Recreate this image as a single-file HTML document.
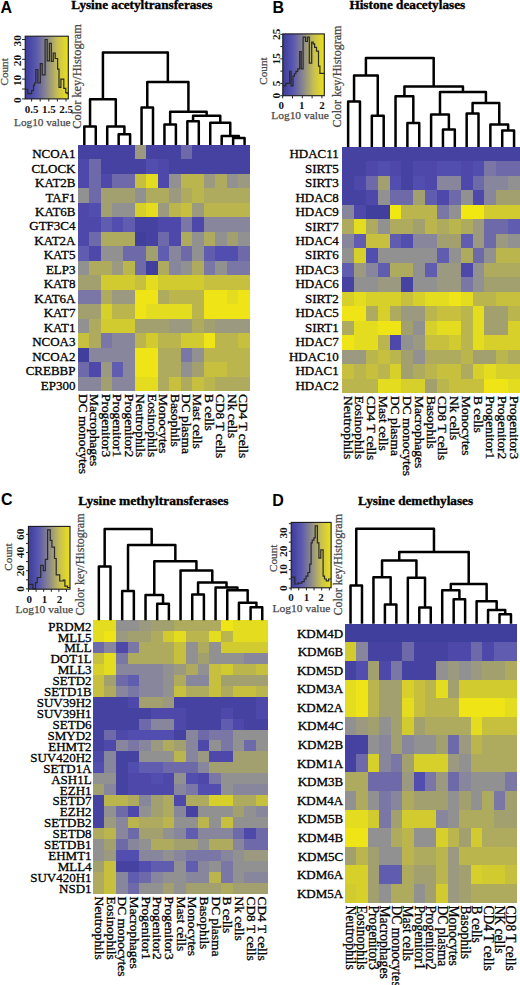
<!DOCTYPE html><html><head><meta charset="utf-8"><style>html,body{margin:0;padding:0;background:#fff;}svg{display:block;}text{font-family:"Liberation Serif",serif;}</style></head><body><svg width="520" height="985" viewBox="0 0 520 985"><rect width="520" height="985" fill="#fff"/><defs><linearGradient id="ck" x1="0" x2="1" y1="0" y2="0"><stop offset="0" stop-color="#3c3c9c"/><stop offset="0.25" stop-color="#5a58b0"/><stop offset="0.5" stop-color="#8c8a8a"/><stop offset="0.75" stop-color="#c8c050"/><stop offset="1" stop-color="#ece218"/></linearGradient></defs><g shape-rendering="crispEdges"><rect x="77.70" y="145.00" width="11.75" height="14.77" fill="#4642a2"/><rect x="89.15" y="145.00" width="11.75" height="14.77" fill="#4642a2"/><rect x="100.59" y="145.00" width="11.75" height="14.77" fill="#4642a2"/><rect x="112.04" y="145.00" width="11.75" height="14.77" fill="#4642a2"/><rect x="123.49" y="145.00" width="11.75" height="14.77" fill="#4642a2"/><rect x="134.93" y="145.00" width="11.75" height="14.77" fill="#9b9980"/><rect x="146.38" y="145.00" width="11.75" height="14.77" fill="#4642a2"/><rect x="157.83" y="145.00" width="11.75" height="14.77" fill="#4642a2"/><rect x="169.27" y="145.00" width="11.75" height="14.77" fill="#4642a2"/><rect x="180.72" y="145.00" width="11.75" height="14.77" fill="#6e6aaa"/><rect x="192.17" y="145.00" width="11.75" height="14.77" fill="#4642a2"/><rect x="203.61" y="145.00" width="11.75" height="14.77" fill="#4642a2"/><rect x="215.06" y="145.00" width="11.75" height="14.77" fill="#4642a2"/><rect x="226.51" y="145.00" width="11.75" height="14.77" fill="#4642a2"/><rect x="237.95" y="145.00" width="11.75" height="14.77" fill="#4642a2"/><rect x="77.70" y="159.47" width="11.75" height="14.77" fill="#4e48aa"/><rect x="89.15" y="159.47" width="11.75" height="14.77" fill="#6e6aaa"/><rect x="100.59" y="159.47" width="11.75" height="14.77" fill="#4642a2"/><rect x="112.04" y="159.47" width="11.75" height="14.77" fill="#4642a2"/><rect x="123.49" y="159.47" width="11.75" height="14.77" fill="#4642a2"/><rect x="134.93" y="159.47" width="11.75" height="14.77" fill="#4642a2"/><rect x="146.38" y="159.47" width="11.75" height="14.77" fill="#524eb0"/><rect x="157.83" y="159.47" width="11.75" height="14.77" fill="#4e48aa"/><rect x="169.27" y="159.47" width="11.75" height="14.77" fill="#4642a2"/><rect x="180.72" y="159.47" width="11.75" height="14.77" fill="#4642a2"/><rect x="192.17" y="159.47" width="11.75" height="14.77" fill="#4642a2"/><rect x="203.61" y="159.47" width="11.75" height="14.77" fill="#4642a2"/><rect x="215.06" y="159.47" width="11.75" height="14.77" fill="#4642a2"/><rect x="226.51" y="159.47" width="11.75" height="14.77" fill="#4642a2"/><rect x="237.95" y="159.47" width="11.75" height="14.77" fill="#4642a2"/><rect x="77.70" y="173.94" width="11.75" height="14.77" fill="#4e48aa"/><rect x="89.15" y="173.94" width="11.75" height="14.77" fill="#6e6aaa"/><rect x="100.59" y="173.94" width="11.75" height="14.77" fill="#4e48aa"/><rect x="112.04" y="173.94" width="11.75" height="14.77" fill="#6e6aaa"/><rect x="123.49" y="173.94" width="11.75" height="14.77" fill="#6e6aaa"/><rect x="134.93" y="173.94" width="11.75" height="14.77" fill="#c6c03e"/><rect x="146.38" y="173.94" width="11.75" height="14.77" fill="#e4dc1e"/><rect x="157.83" y="173.94" width="11.75" height="14.77" fill="#4e48aa"/><rect x="169.27" y="173.94" width="11.75" height="14.77" fill="#929192"/><rect x="180.72" y="173.94" width="11.75" height="14.77" fill="#bab54c"/><rect x="192.17" y="173.94" width="11.75" height="14.77" fill="#bab54c"/><rect x="203.61" y="173.94" width="11.75" height="14.77" fill="#9b9980"/><rect x="215.06" y="173.94" width="11.75" height="14.77" fill="#aeaa5e"/><rect x="226.51" y="173.94" width="11.75" height="14.77" fill="#929192"/><rect x="237.95" y="173.94" width="11.75" height="14.77" fill="#9b9980"/><rect x="77.70" y="188.41" width="11.75" height="14.77" fill="#929192"/><rect x="89.15" y="188.41" width="11.75" height="14.77" fill="#6e6aaa"/><rect x="100.59" y="188.41" width="11.75" height="14.77" fill="#a3a070"/><rect x="112.04" y="188.41" width="11.75" height="14.77" fill="#a3a070"/><rect x="123.49" y="188.41" width="11.75" height="14.77" fill="#a3a070"/><rect x="134.93" y="188.41" width="11.75" height="14.77" fill="#929192"/><rect x="146.38" y="188.41" width="11.75" height="14.77" fill="#aeaa5e"/><rect x="157.83" y="188.41" width="11.75" height="14.77" fill="#aeaa5e"/><rect x="169.27" y="188.41" width="11.75" height="14.77" fill="#9b9980"/><rect x="180.72" y="188.41" width="11.75" height="14.77" fill="#aeaa5e"/><rect x="192.17" y="188.41" width="11.75" height="14.77" fill="#bab54c"/><rect x="203.61" y="188.41" width="11.75" height="14.77" fill="#aeaa5e"/><rect x="215.06" y="188.41" width="11.75" height="14.77" fill="#aeaa5e"/><rect x="226.51" y="188.41" width="11.75" height="14.77" fill="#aeaa5e"/><rect x="237.95" y="188.41" width="11.75" height="14.77" fill="#aeaa5e"/><rect x="77.70" y="202.88" width="11.75" height="14.77" fill="#4e48aa"/><rect x="89.15" y="202.88" width="11.75" height="14.77" fill="#524eb0"/><rect x="100.59" y="202.88" width="11.75" height="14.77" fill="#a3a070"/><rect x="112.04" y="202.88" width="11.75" height="14.77" fill="#929192"/><rect x="123.49" y="202.88" width="11.75" height="14.77" fill="#929192"/><rect x="134.93" y="202.88" width="11.75" height="14.77" fill="#d8d02a"/><rect x="146.38" y="202.88" width="11.75" height="14.77" fill="#e4dc1e"/><rect x="157.83" y="202.88" width="11.75" height="14.77" fill="#9b9980"/><rect x="169.27" y="202.88" width="11.75" height="14.77" fill="#bab54c"/><rect x="180.72" y="202.88" width="11.75" height="14.77" fill="#c6c03e"/><rect x="192.17" y="202.88" width="11.75" height="14.77" fill="#9b9980"/><rect x="203.61" y="202.88" width="11.75" height="14.77" fill="#bab54c"/><rect x="215.06" y="202.88" width="11.75" height="14.77" fill="#bab54c"/><rect x="226.51" y="202.88" width="11.75" height="14.77" fill="#bab54c"/><rect x="237.95" y="202.88" width="11.75" height="14.77" fill="#bab54c"/><rect x="77.70" y="217.35" width="11.75" height="14.77" fill="#4e48aa"/><rect x="89.15" y="217.35" width="11.75" height="14.77" fill="#4e48aa"/><rect x="100.59" y="217.35" width="11.75" height="14.77" fill="#605cb0"/><rect x="112.04" y="217.35" width="11.75" height="14.77" fill="#524eb0"/><rect x="123.49" y="217.35" width="11.75" height="14.77" fill="#605cb0"/><rect x="134.93" y="217.35" width="11.75" height="14.77" fill="#4642a2"/><rect x="146.38" y="217.35" width="11.75" height="14.77" fill="#4642a2"/><rect x="157.83" y="217.35" width="11.75" height="14.77" fill="#4e48aa"/><rect x="169.27" y="217.35" width="11.75" height="14.77" fill="#4e48aa"/><rect x="180.72" y="217.35" width="11.75" height="14.77" fill="#7a77a6"/><rect x="192.17" y="217.35" width="11.75" height="14.77" fill="#4e48aa"/><rect x="203.61" y="217.35" width="11.75" height="14.77" fill="#88869c"/><rect x="215.06" y="217.35" width="11.75" height="14.77" fill="#88869c"/><rect x="226.51" y="217.35" width="11.75" height="14.77" fill="#88869c"/><rect x="237.95" y="217.35" width="11.75" height="14.77" fill="#88869c"/><rect x="77.70" y="231.82" width="11.75" height="14.77" fill="#4e48aa"/><rect x="89.15" y="231.82" width="11.75" height="14.77" fill="#6e6aaa"/><rect x="100.59" y="231.82" width="11.75" height="14.77" fill="#aeaa5e"/><rect x="112.04" y="231.82" width="11.75" height="14.77" fill="#aeaa5e"/><rect x="123.49" y="231.82" width="11.75" height="14.77" fill="#aeaa5e"/><rect x="134.93" y="231.82" width="11.75" height="14.77" fill="#413f9e"/><rect x="146.38" y="231.82" width="11.75" height="14.77" fill="#4642a2"/><rect x="157.83" y="231.82" width="11.75" height="14.77" fill="#6e6aaa"/><rect x="169.27" y="231.82" width="11.75" height="14.77" fill="#4e48aa"/><rect x="180.72" y="231.82" width="11.75" height="14.77" fill="#aeaa5e"/><rect x="192.17" y="231.82" width="11.75" height="14.77" fill="#929192"/><rect x="203.61" y="231.82" width="11.75" height="14.77" fill="#aeaa5e"/><rect x="215.06" y="231.82" width="11.75" height="14.77" fill="#929192"/><rect x="226.51" y="231.82" width="11.75" height="14.77" fill="#a3a070"/><rect x="237.95" y="231.82" width="11.75" height="14.77" fill="#929192"/><rect x="77.70" y="246.29" width="11.75" height="14.77" fill="#605cb0"/><rect x="89.15" y="246.29" width="11.75" height="14.77" fill="#4e48aa"/><rect x="100.59" y="246.29" width="11.75" height="14.77" fill="#929192"/><rect x="112.04" y="246.29" width="11.75" height="14.77" fill="#929192"/><rect x="123.49" y="246.29" width="11.75" height="14.77" fill="#6e6aaa"/><rect x="134.93" y="246.29" width="11.75" height="14.77" fill="#6e6aaa"/><rect x="146.38" y="246.29" width="11.75" height="14.77" fill="#a3a070"/><rect x="157.83" y="246.29" width="11.75" height="14.77" fill="#605cb0"/><rect x="169.27" y="246.29" width="11.75" height="14.77" fill="#88869c"/><rect x="180.72" y="246.29" width="11.75" height="14.77" fill="#6e6aaa"/><rect x="192.17" y="246.29" width="11.75" height="14.77" fill="#929192"/><rect x="203.61" y="246.29" width="11.75" height="14.77" fill="#605cb0"/><rect x="215.06" y="246.29" width="11.75" height="14.77" fill="#524eb0"/><rect x="226.51" y="246.29" width="11.75" height="14.77" fill="#524eb0"/><rect x="237.95" y="246.29" width="11.75" height="14.77" fill="#6e6aaa"/><rect x="77.70" y="260.76" width="11.75" height="14.77" fill="#929192"/><rect x="89.15" y="260.76" width="11.75" height="14.77" fill="#aeaa5e"/><rect x="100.59" y="260.76" width="11.75" height="14.77" fill="#aeaa5e"/><rect x="112.04" y="260.76" width="11.75" height="14.77" fill="#9b9980"/><rect x="123.49" y="260.76" width="11.75" height="14.77" fill="#bab54c"/><rect x="134.93" y="260.76" width="11.75" height="14.77" fill="#6e6aaa"/><rect x="146.38" y="260.76" width="11.75" height="14.77" fill="#413f9e"/><rect x="157.83" y="260.76" width="11.75" height="14.77" fill="#aeaa5e"/><rect x="169.27" y="260.76" width="11.75" height="14.77" fill="#88869c"/><rect x="180.72" y="260.76" width="11.75" height="14.77" fill="#929192"/><rect x="192.17" y="260.76" width="11.75" height="14.77" fill="#aeaa5e"/><rect x="203.61" y="260.76" width="11.75" height="14.77" fill="#7a77a6"/><rect x="215.06" y="260.76" width="11.75" height="14.77" fill="#929192"/><rect x="226.51" y="260.76" width="11.75" height="14.77" fill="#7a77a6"/><rect x="237.95" y="260.76" width="11.75" height="14.77" fill="#7a77a6"/><rect x="77.70" y="275.24" width="11.75" height="14.77" fill="#a3a070"/><rect x="89.15" y="275.24" width="11.75" height="14.77" fill="#a3a070"/><rect x="100.59" y="275.24" width="11.75" height="14.77" fill="#d2cb30"/><rect x="112.04" y="275.24" width="11.75" height="14.77" fill="#d2cb30"/><rect x="123.49" y="275.24" width="11.75" height="14.77" fill="#d2cb30"/><rect x="134.93" y="275.24" width="11.75" height="14.77" fill="#c6c03e"/><rect x="146.38" y="275.24" width="11.75" height="14.77" fill="#e4dc1e"/><rect x="157.83" y="275.24" width="11.75" height="14.77" fill="#d2cb30"/><rect x="169.27" y="275.24" width="11.75" height="14.77" fill="#d2cb30"/><rect x="180.72" y="275.24" width="11.75" height="14.77" fill="#d2cb30"/><rect x="192.17" y="275.24" width="11.75" height="14.77" fill="#d2cb30"/><rect x="203.61" y="275.24" width="11.75" height="14.77" fill="#c6c03e"/><rect x="215.06" y="275.24" width="11.75" height="14.77" fill="#c6c03e"/><rect x="226.51" y="275.24" width="11.75" height="14.77" fill="#c6c03e"/><rect x="237.95" y="275.24" width="11.75" height="14.77" fill="#c6c03e"/><rect x="77.70" y="289.71" width="11.75" height="14.77" fill="#7a77a6"/><rect x="89.15" y="289.71" width="11.75" height="14.77" fill="#7a77a6"/><rect x="100.59" y="289.71" width="11.75" height="14.77" fill="#aeaa5e"/><rect x="112.04" y="289.71" width="11.75" height="14.77" fill="#9b9980"/><rect x="123.49" y="289.71" width="11.75" height="14.77" fill="#9b9980"/><rect x="134.93" y="289.71" width="11.75" height="14.77" fill="#eee416"/><rect x="146.38" y="289.71" width="11.75" height="14.77" fill="#eee416"/><rect x="157.83" y="289.71" width="11.75" height="14.77" fill="#aeaa5e"/><rect x="169.27" y="289.71" width="11.75" height="14.77" fill="#bab54c"/><rect x="180.72" y="289.71" width="11.75" height="14.77" fill="#bab54c"/><rect x="192.17" y="289.71" width="11.75" height="14.77" fill="#bab54c"/><rect x="203.61" y="289.71" width="11.75" height="14.77" fill="#eee416"/><rect x="215.06" y="289.71" width="11.75" height="14.77" fill="#eee416"/><rect x="226.51" y="289.71" width="11.75" height="14.77" fill="#e4dc1e"/><rect x="237.95" y="289.71" width="11.75" height="14.77" fill="#eee416"/><rect x="77.70" y="304.18" width="11.75" height="14.77" fill="#a3a070"/><rect x="89.15" y="304.18" width="11.75" height="14.77" fill="#a3a070"/><rect x="100.59" y="304.18" width="11.75" height="14.77" fill="#d8d02a"/><rect x="112.04" y="304.18" width="11.75" height="14.77" fill="#bab54c"/><rect x="123.49" y="304.18" width="11.75" height="14.77" fill="#bab54c"/><rect x="134.93" y="304.18" width="11.75" height="14.77" fill="#eee416"/><rect x="146.38" y="304.18" width="11.75" height="14.77" fill="#e4dc1e"/><rect x="157.83" y="304.18" width="11.75" height="14.77" fill="#e4dc1e"/><rect x="169.27" y="304.18" width="11.75" height="14.77" fill="#e4dc1e"/><rect x="180.72" y="304.18" width="11.75" height="14.77" fill="#e4dc1e"/><rect x="192.17" y="304.18" width="11.75" height="14.77" fill="#bab54c"/><rect x="203.61" y="304.18" width="11.75" height="14.77" fill="#eee416"/><rect x="215.06" y="304.18" width="11.75" height="14.77" fill="#eee416"/><rect x="226.51" y="304.18" width="11.75" height="14.77" fill="#eee416"/><rect x="237.95" y="304.18" width="11.75" height="14.77" fill="#eee416"/><rect x="77.70" y="318.65" width="11.75" height="14.77" fill="#929192"/><rect x="89.15" y="318.65" width="11.75" height="14.77" fill="#aeaa5e"/><rect x="100.59" y="318.65" width="11.75" height="14.77" fill="#d2cb30"/><rect x="112.04" y="318.65" width="11.75" height="14.77" fill="#d2cb30"/><rect x="123.49" y="318.65" width="11.75" height="14.77" fill="#d2cb30"/><rect x="134.93" y="318.65" width="11.75" height="14.77" fill="#a3a070"/><rect x="146.38" y="318.65" width="11.75" height="14.77" fill="#a3a070"/><rect x="157.83" y="318.65" width="11.75" height="14.77" fill="#a3a070"/><rect x="169.27" y="318.65" width="11.75" height="14.77" fill="#9b9980"/><rect x="180.72" y="318.65" width="11.75" height="14.77" fill="#9b9980"/><rect x="192.17" y="318.65" width="11.75" height="14.77" fill="#aeaa5e"/><rect x="203.61" y="318.65" width="11.75" height="14.77" fill="#a3a070"/><rect x="215.06" y="318.65" width="11.75" height="14.77" fill="#9b9980"/><rect x="226.51" y="318.65" width="11.75" height="14.77" fill="#9b9980"/><rect x="237.95" y="318.65" width="11.75" height="14.77" fill="#9b9980"/><rect x="77.70" y="333.12" width="11.75" height="14.77" fill="#c6c03e"/><rect x="89.15" y="333.12" width="11.75" height="14.77" fill="#aeaa5e"/><rect x="100.59" y="333.12" width="11.75" height="14.77" fill="#7a77a6"/><rect x="112.04" y="333.12" width="11.75" height="14.77" fill="#88869c"/><rect x="123.49" y="333.12" width="11.75" height="14.77" fill="#88869c"/><rect x="134.93" y="333.12" width="11.75" height="14.77" fill="#bab54c"/><rect x="146.38" y="333.12" width="11.75" height="14.77" fill="#d2cb30"/><rect x="157.83" y="333.12" width="11.75" height="14.77" fill="#bab54c"/><rect x="169.27" y="333.12" width="11.75" height="14.77" fill="#bab54c"/><rect x="180.72" y="333.12" width="11.75" height="14.77" fill="#d2cb30"/><rect x="192.17" y="333.12" width="11.75" height="14.77" fill="#d2cb30"/><rect x="203.61" y="333.12" width="11.75" height="14.77" fill="#eee416"/><rect x="215.06" y="333.12" width="11.75" height="14.77" fill="#bab54c"/><rect x="226.51" y="333.12" width="11.75" height="14.77" fill="#bab54c"/><rect x="237.95" y="333.12" width="11.75" height="14.77" fill="#c6c03e"/><rect x="77.70" y="347.59" width="11.75" height="14.77" fill="#413f9e"/><rect x="89.15" y="347.59" width="11.75" height="14.77" fill="#88869c"/><rect x="100.59" y="347.59" width="11.75" height="14.77" fill="#88869c"/><rect x="112.04" y="347.59" width="11.75" height="14.77" fill="#88869c"/><rect x="123.49" y="347.59" width="11.75" height="14.77" fill="#88869c"/><rect x="134.93" y="347.59" width="11.75" height="14.77" fill="#eee416"/><rect x="146.38" y="347.59" width="11.75" height="14.77" fill="#eee416"/><rect x="157.83" y="347.59" width="11.75" height="14.77" fill="#aeaa5e"/><rect x="169.27" y="347.59" width="11.75" height="14.77" fill="#aeaa5e"/><rect x="180.72" y="347.59" width="11.75" height="14.77" fill="#7a77a6"/><rect x="192.17" y="347.59" width="11.75" height="14.77" fill="#929192"/><rect x="203.61" y="347.59" width="11.75" height="14.77" fill="#bab54c"/><rect x="215.06" y="347.59" width="11.75" height="14.77" fill="#bab54c"/><rect x="226.51" y="347.59" width="11.75" height="14.77" fill="#bab54c"/><rect x="237.95" y="347.59" width="11.75" height="14.77" fill="#bab54c"/><rect x="77.70" y="362.06" width="11.75" height="14.77" fill="#6e6aaa"/><rect x="89.15" y="362.06" width="11.75" height="14.77" fill="#4e48aa"/><rect x="100.59" y="362.06" width="11.75" height="14.77" fill="#9b9980"/><rect x="112.04" y="362.06" width="11.75" height="14.77" fill="#605cb0"/><rect x="123.49" y="362.06" width="11.75" height="14.77" fill="#88869c"/><rect x="134.93" y="362.06" width="11.75" height="14.77" fill="#eee416"/><rect x="146.38" y="362.06" width="11.75" height="14.77" fill="#eee416"/><rect x="157.83" y="362.06" width="11.75" height="14.77" fill="#aeaa5e"/><rect x="169.27" y="362.06" width="11.75" height="14.77" fill="#aeaa5e"/><rect x="180.72" y="362.06" width="11.75" height="14.77" fill="#929192"/><rect x="192.17" y="362.06" width="11.75" height="14.77" fill="#a3a070"/><rect x="203.61" y="362.06" width="11.75" height="14.77" fill="#c6c03e"/><rect x="215.06" y="362.06" width="11.75" height="14.77" fill="#c6c03e"/><rect x="226.51" y="362.06" width="11.75" height="14.77" fill="#bab54c"/><rect x="237.95" y="362.06" width="11.75" height="14.77" fill="#bab54c"/><rect x="77.70" y="376.53" width="11.75" height="14.77" fill="#88869c"/><rect x="89.15" y="376.53" width="11.75" height="14.77" fill="#88869c"/><rect x="100.59" y="376.53" width="11.75" height="14.77" fill="#a3a070"/><rect x="112.04" y="376.53" width="11.75" height="14.77" fill="#88869c"/><rect x="123.49" y="376.53" width="11.75" height="14.77" fill="#88869c"/><rect x="134.93" y="376.53" width="11.75" height="14.77" fill="#e4dc1e"/><rect x="146.38" y="376.53" width="11.75" height="14.77" fill="#e4dc1e"/><rect x="157.83" y="376.53" width="11.75" height="14.77" fill="#aeaa5e"/><rect x="169.27" y="376.53" width="11.75" height="14.77" fill="#c6c03e"/><rect x="180.72" y="376.53" width="11.75" height="14.77" fill="#aeaa5e"/><rect x="192.17" y="376.53" width="11.75" height="14.77" fill="#c6c03e"/><rect x="203.61" y="376.53" width="11.75" height="14.77" fill="#bab54c"/><rect x="215.06" y="376.53" width="11.75" height="14.77" fill="#aeaa5e"/><rect x="226.51" y="376.53" width="11.75" height="14.77" fill="#aeaa5e"/><rect x="237.95" y="376.53" width="11.75" height="14.77" fill="#aeaa5e"/></g><path d="M84.32,145.00V126.50H95.77V145.00M118.66,145.00V134.30H130.11V145.00M107.22,145.00V126.50H124.39V134.30M90.05,126.50V99.20H115.80V126.50M141.56,145.00V107.50H153.00V145.00M164.45,145.00V124.40H175.90V145.00M187.34,145.00V121.20H198.79V145.00M233.13,145.00V138.00H244.58V145.00M221.68,145.00V135.90H238.85V138.00M210.24,145.00V122.80H230.27V135.90M193.07,121.20V115.70H220.25V122.80M170.17,124.40V111.70H206.66V115.70M147.28,107.50V82.00H188.42V111.70M102.92,99.20V52.50H167.85V82.00" fill="none" stroke="#000" stroke-width="2.5" stroke-linejoin="round"/><g fill="#000" stroke="#000" stroke-width="0.3"><text x="75.50" y="158.14" text-anchor="end" font-size="13">NCOA1</text><text x="75.50" y="172.61" text-anchor="end" font-size="13">CLOCK</text><text x="75.50" y="187.08" text-anchor="end" font-size="13">KAT2B</text><text x="75.50" y="201.55" text-anchor="end" font-size="13">TAF1</text><text x="75.50" y="216.02" text-anchor="end" font-size="13">KAT6B</text><text x="75.50" y="230.49" text-anchor="end" font-size="13">GTF3C4</text><text x="75.50" y="244.96" text-anchor="end" font-size="13">KAT2A</text><text x="75.50" y="259.43" text-anchor="end" font-size="13">KAT5</text><text x="75.50" y="273.90" text-anchor="end" font-size="13">ELP3</text><text x="75.50" y="288.37" text-anchor="end" font-size="13">KAT8</text><text x="75.50" y="302.84" text-anchor="end" font-size="13">KAT6A</text><text x="75.50" y="317.31" text-anchor="end" font-size="13">KAT7</text><text x="75.50" y="331.78" text-anchor="end" font-size="13">KAT1</text><text x="75.50" y="346.25" text-anchor="end" font-size="13">NCOA3</text><text x="75.50" y="360.72" text-anchor="end" font-size="13">NCOA2</text><text x="75.50" y="375.19" text-anchor="end" font-size="13">CREBBP</text><text x="75.50" y="389.66" text-anchor="end" font-size="13">EP300</text><text transform="translate(78.92,394.00) rotate(90)" x="0" y="0" font-size="13.4">DC monocytes</text><text transform="translate(90.37,394.00) rotate(90)" x="0" y="0" font-size="13.4">Macrophages</text><text transform="translate(101.82,394.00) rotate(90)" x="0" y="0" font-size="13.4">Progenitor3</text><text transform="translate(113.26,394.00) rotate(90)" x="0" y="0" font-size="13.4">Progenitor1</text><text transform="translate(124.71,394.00) rotate(90)" x="0" y="0" font-size="13.4">Progenitor2</text><text transform="translate(136.16,394.00) rotate(90)" x="0" y="0" font-size="13.4">Neutrophils</text><text transform="translate(147.60,394.00) rotate(90)" x="0" y="0" font-size="13.4">Eosinophils</text><text transform="translate(159.05,394.00) rotate(90)" x="0" y="0" font-size="13.4">Monocytes</text><text transform="translate(170.50,394.00) rotate(90)" x="0" y="0" font-size="13.4">Basophils</text><text transform="translate(181.94,394.00) rotate(90)" x="0" y="0" font-size="13.4">DC plasma</text><text transform="translate(193.39,394.00) rotate(90)" x="0" y="0" font-size="13.4">Mast cells</text><text transform="translate(204.84,394.00) rotate(90)" x="0" y="0" font-size="13.4">B cells</text><text transform="translate(216.28,394.00) rotate(90)" x="0" y="0" font-size="13.4">CD8 T cells</text><text transform="translate(227.73,394.00) rotate(90)" x="0" y="0" font-size="13.4">Nk cells</text><text transform="translate(239.18,394.00) rotate(90)" x="0" y="0" font-size="13.4">CD4 T cells</text></g><g shape-rendering="crispEdges"><rect x="342.20" y="146.90" width="12.15" height="14.78" fill="#4642a2"/><rect x="354.05" y="146.90" width="12.15" height="14.78" fill="#4642a2"/><rect x="365.91" y="146.90" width="12.15" height="14.78" fill="#4642a2"/><rect x="377.76" y="146.90" width="12.15" height="14.78" fill="#4642a2"/><rect x="389.61" y="146.90" width="12.15" height="14.78" fill="#4642a2"/><rect x="401.47" y="146.90" width="12.15" height="14.78" fill="#4642a2"/><rect x="413.32" y="146.90" width="12.15" height="14.78" fill="#4642a2"/><rect x="425.17" y="146.90" width="12.15" height="14.78" fill="#4642a2"/><rect x="437.03" y="146.90" width="12.15" height="14.78" fill="#4642a2"/><rect x="448.88" y="146.90" width="12.15" height="14.78" fill="#4642a2"/><rect x="460.73" y="146.90" width="12.15" height="14.78" fill="#4642a2"/><rect x="472.59" y="146.90" width="12.15" height="14.78" fill="#4642a2"/><rect x="484.44" y="146.90" width="12.15" height="14.78" fill="#4642a2"/><rect x="496.29" y="146.90" width="12.15" height="14.78" fill="#4642a2"/><rect x="508.15" y="146.90" width="12.15" height="14.78" fill="#4642a2"/><rect x="342.20" y="161.38" width="12.15" height="14.78" fill="#4642a2"/><rect x="354.05" y="161.38" width="12.15" height="14.78" fill="#4642a2"/><rect x="365.91" y="161.38" width="12.15" height="14.78" fill="#4e48aa"/><rect x="377.76" y="161.38" width="12.15" height="14.78" fill="#524eb0"/><rect x="389.61" y="161.38" width="12.15" height="14.78" fill="#4e48aa"/><rect x="401.47" y="161.38" width="12.15" height="14.78" fill="#4642a2"/><rect x="413.32" y="161.38" width="12.15" height="14.78" fill="#4e48aa"/><rect x="425.17" y="161.38" width="12.15" height="14.78" fill="#4e48aa"/><rect x="437.03" y="161.38" width="12.15" height="14.78" fill="#524eb0"/><rect x="448.88" y="161.38" width="12.15" height="14.78" fill="#524eb0"/><rect x="460.73" y="161.38" width="12.15" height="14.78" fill="#4e48aa"/><rect x="472.59" y="161.38" width="12.15" height="14.78" fill="#524eb0"/><rect x="484.44" y="161.38" width="12.15" height="14.78" fill="#7a77a6"/><rect x="496.29" y="161.38" width="12.15" height="14.78" fill="#6e6aaa"/><rect x="508.15" y="161.38" width="12.15" height="14.78" fill="#6e6aaa"/><rect x="342.20" y="175.85" width="12.15" height="14.78" fill="#4642a2"/><rect x="354.05" y="175.85" width="12.15" height="14.78" fill="#4e48aa"/><rect x="365.91" y="175.85" width="12.15" height="14.78" fill="#6e6aaa"/><rect x="377.76" y="175.85" width="12.15" height="14.78" fill="#a3a070"/><rect x="389.61" y="175.85" width="12.15" height="14.78" fill="#524eb0"/><rect x="401.47" y="175.85" width="12.15" height="14.78" fill="#4642a2"/><rect x="413.32" y="175.85" width="12.15" height="14.78" fill="#524eb0"/><rect x="425.17" y="175.85" width="12.15" height="14.78" fill="#4e48aa"/><rect x="437.03" y="175.85" width="12.15" height="14.78" fill="#88869c"/><rect x="448.88" y="175.85" width="12.15" height="14.78" fill="#88869c"/><rect x="460.73" y="175.85" width="12.15" height="14.78" fill="#4e48aa"/><rect x="472.59" y="175.85" width="12.15" height="14.78" fill="#6e6aaa"/><rect x="484.44" y="175.85" width="12.15" height="14.78" fill="#88869c"/><rect x="496.29" y="175.85" width="12.15" height="14.78" fill="#88869c"/><rect x="508.15" y="175.85" width="12.15" height="14.78" fill="#929192"/><rect x="342.20" y="190.33" width="12.15" height="14.78" fill="#4642a2"/><rect x="354.05" y="190.33" width="12.15" height="14.78" fill="#4642a2"/><rect x="365.91" y="190.33" width="12.15" height="14.78" fill="#4e48aa"/><rect x="377.76" y="190.33" width="12.15" height="14.78" fill="#929192"/><rect x="389.61" y="190.33" width="12.15" height="14.78" fill="#6e6aaa"/><rect x="401.47" y="190.33" width="12.15" height="14.78" fill="#6e6aaa"/><rect x="413.32" y="190.33" width="12.15" height="14.78" fill="#a3a070"/><rect x="425.17" y="190.33" width="12.15" height="14.78" fill="#605cb0"/><rect x="437.03" y="190.33" width="12.15" height="14.78" fill="#4e48aa"/><rect x="448.88" y="190.33" width="12.15" height="14.78" fill="#6e6aaa"/><rect x="460.73" y="190.33" width="12.15" height="14.78" fill="#929192"/><rect x="472.59" y="190.33" width="12.15" height="14.78" fill="#4e48aa"/><rect x="484.44" y="190.33" width="12.15" height="14.78" fill="#88869c"/><rect x="496.29" y="190.33" width="12.15" height="14.78" fill="#a3a070"/><rect x="508.15" y="190.33" width="12.15" height="14.78" fill="#a3a070"/><rect x="342.20" y="204.81" width="12.15" height="14.78" fill="#88869c"/><rect x="354.05" y="204.81" width="12.15" height="14.78" fill="#4e48aa"/><rect x="365.91" y="204.81" width="12.15" height="14.78" fill="#413f9e"/><rect x="377.76" y="204.81" width="12.15" height="14.78" fill="#413f9e"/><rect x="389.61" y="204.81" width="12.15" height="14.78" fill="#f2e811"/><rect x="401.47" y="204.81" width="12.15" height="14.78" fill="#bab54c"/><rect x="413.32" y="204.81" width="12.15" height="14.78" fill="#bab54c"/><rect x="425.17" y="204.81" width="12.15" height="14.78" fill="#bab54c"/><rect x="437.03" y="204.81" width="12.15" height="14.78" fill="#7a77a6"/><rect x="448.88" y="204.81" width="12.15" height="14.78" fill="#929192"/><rect x="460.73" y="204.81" width="12.15" height="14.78" fill="#f2e811"/><rect x="472.59" y="204.81" width="12.15" height="14.78" fill="#f2e811"/><rect x="484.44" y="204.81" width="12.15" height="14.78" fill="#d2cb30"/><rect x="496.29" y="204.81" width="12.15" height="14.78" fill="#d2cb30"/><rect x="508.15" y="204.81" width="12.15" height="14.78" fill="#d2cb30"/><rect x="342.20" y="219.28" width="12.15" height="14.78" fill="#aeaa5e"/><rect x="354.05" y="219.28" width="12.15" height="14.78" fill="#e4dc1e"/><rect x="365.91" y="219.28" width="12.15" height="14.78" fill="#aeaa5e"/><rect x="377.76" y="219.28" width="12.15" height="14.78" fill="#929192"/><rect x="389.61" y="219.28" width="12.15" height="14.78" fill="#aeaa5e"/><rect x="401.47" y="219.28" width="12.15" height="14.78" fill="#aeaa5e"/><rect x="413.32" y="219.28" width="12.15" height="14.78" fill="#a3a070"/><rect x="425.17" y="219.28" width="12.15" height="14.78" fill="#bab54c"/><rect x="437.03" y="219.28" width="12.15" height="14.78" fill="#aeaa5e"/><rect x="448.88" y="219.28" width="12.15" height="14.78" fill="#bab54c"/><rect x="460.73" y="219.28" width="12.15" height="14.78" fill="#aeaa5e"/><rect x="472.59" y="219.28" width="12.15" height="14.78" fill="#9b9980"/><rect x="484.44" y="219.28" width="12.15" height="14.78" fill="#6e6aaa"/><rect x="496.29" y="219.28" width="12.15" height="14.78" fill="#6e6aaa"/><rect x="508.15" y="219.28" width="12.15" height="14.78" fill="#605cb0"/><rect x="342.20" y="233.76" width="12.15" height="14.78" fill="#88869c"/><rect x="354.05" y="233.76" width="12.15" height="14.78" fill="#605cb0"/><rect x="365.91" y="233.76" width="12.15" height="14.78" fill="#c6c03e"/><rect x="377.76" y="233.76" width="12.15" height="14.78" fill="#c6c03e"/><rect x="389.61" y="233.76" width="12.15" height="14.78" fill="#605cb0"/><rect x="401.47" y="233.76" width="12.15" height="14.78" fill="#524eb0"/><rect x="413.32" y="233.76" width="12.15" height="14.78" fill="#88869c"/><rect x="425.17" y="233.76" width="12.15" height="14.78" fill="#88869c"/><rect x="437.03" y="233.76" width="12.15" height="14.78" fill="#a3a070"/><rect x="448.88" y="233.76" width="12.15" height="14.78" fill="#a3a070"/><rect x="460.73" y="233.76" width="12.15" height="14.78" fill="#605cb0"/><rect x="472.59" y="233.76" width="12.15" height="14.78" fill="#9b9980"/><rect x="484.44" y="233.76" width="12.15" height="14.78" fill="#6e6aaa"/><rect x="496.29" y="233.76" width="12.15" height="14.78" fill="#9b9980"/><rect x="508.15" y="233.76" width="12.15" height="14.78" fill="#929192"/><rect x="342.20" y="248.24" width="12.15" height="14.78" fill="#929192"/><rect x="354.05" y="248.24" width="12.15" height="14.78" fill="#d8d02a"/><rect x="365.91" y="248.24" width="12.15" height="14.78" fill="#524eb0"/><rect x="377.76" y="248.24" width="12.15" height="14.78" fill="#929192"/><rect x="389.61" y="248.24" width="12.15" height="14.78" fill="#929192"/><rect x="401.47" y="248.24" width="12.15" height="14.78" fill="#929192"/><rect x="413.32" y="248.24" width="12.15" height="14.78" fill="#929192"/><rect x="425.17" y="248.24" width="12.15" height="14.78" fill="#929192"/><rect x="437.03" y="248.24" width="12.15" height="14.78" fill="#605cb0"/><rect x="448.88" y="248.24" width="12.15" height="14.78" fill="#929192"/><rect x="460.73" y="248.24" width="12.15" height="14.78" fill="#aeaa5e"/><rect x="472.59" y="248.24" width="12.15" height="14.78" fill="#6e6aaa"/><rect x="484.44" y="248.24" width="12.15" height="14.78" fill="#929192"/><rect x="496.29" y="248.24" width="12.15" height="14.78" fill="#bab54c"/><rect x="508.15" y="248.24" width="12.15" height="14.78" fill="#bab54c"/><rect x="342.20" y="262.71" width="12.15" height="14.78" fill="#605cb0"/><rect x="354.05" y="262.71" width="12.15" height="14.78" fill="#9b9980"/><rect x="365.91" y="262.71" width="12.15" height="14.78" fill="#88869c"/><rect x="377.76" y="262.71" width="12.15" height="14.78" fill="#605cb0"/><rect x="389.61" y="262.71" width="12.15" height="14.78" fill="#aeaa5e"/><rect x="401.47" y="262.71" width="12.15" height="14.78" fill="#aeaa5e"/><rect x="413.32" y="262.71" width="12.15" height="14.78" fill="#929192"/><rect x="425.17" y="262.71" width="12.15" height="14.78" fill="#605cb0"/><rect x="437.03" y="262.71" width="12.15" height="14.78" fill="#9b9980"/><rect x="448.88" y="262.71" width="12.15" height="14.78" fill="#9b9980"/><rect x="460.73" y="262.71" width="12.15" height="14.78" fill="#4e48aa"/><rect x="472.59" y="262.71" width="12.15" height="14.78" fill="#929192"/><rect x="484.44" y="262.71" width="12.15" height="14.78" fill="#aeaa5e"/><rect x="496.29" y="262.71" width="12.15" height="14.78" fill="#aeaa5e"/><rect x="508.15" y="262.71" width="12.15" height="14.78" fill="#aeaa5e"/><rect x="342.20" y="277.19" width="12.15" height="14.78" fill="#4642a2"/><rect x="354.05" y="277.19" width="12.15" height="14.78" fill="#929192"/><rect x="365.91" y="277.19" width="12.15" height="14.78" fill="#929192"/><rect x="377.76" y="277.19" width="12.15" height="14.78" fill="#9b9980"/><rect x="389.61" y="277.19" width="12.15" height="14.78" fill="#9b9980"/><rect x="401.47" y="277.19" width="12.15" height="14.78" fill="#4642a2"/><rect x="413.32" y="277.19" width="12.15" height="14.78" fill="#929192"/><rect x="425.17" y="277.19" width="12.15" height="14.78" fill="#929192"/><rect x="437.03" y="277.19" width="12.15" height="14.78" fill="#9b9980"/><rect x="448.88" y="277.19" width="12.15" height="14.78" fill="#9b9980"/><rect x="460.73" y="277.19" width="12.15" height="14.78" fill="#7a77a6"/><rect x="472.59" y="277.19" width="12.15" height="14.78" fill="#929192"/><rect x="484.44" y="277.19" width="12.15" height="14.78" fill="#a3a070"/><rect x="496.29" y="277.19" width="12.15" height="14.78" fill="#a3a070"/><rect x="508.15" y="277.19" width="12.15" height="14.78" fill="#a3a070"/><rect x="342.20" y="291.66" width="12.15" height="14.78" fill="#d8d02a"/><rect x="354.05" y="291.66" width="12.15" height="14.78" fill="#e4dc1e"/><rect x="365.91" y="291.66" width="12.15" height="14.78" fill="#d8d02a"/><rect x="377.76" y="291.66" width="12.15" height="14.78" fill="#d8d02a"/><rect x="389.61" y="291.66" width="12.15" height="14.78" fill="#d8d02a"/><rect x="401.47" y="291.66" width="12.15" height="14.78" fill="#c6c03e"/><rect x="413.32" y="291.66" width="12.15" height="14.78" fill="#d8d02a"/><rect x="425.17" y="291.66" width="12.15" height="14.78" fill="#e4dc1e"/><rect x="437.03" y="291.66" width="12.15" height="14.78" fill="#e4dc1e"/><rect x="448.88" y="291.66" width="12.15" height="14.78" fill="#eee416"/><rect x="460.73" y="291.66" width="12.15" height="14.78" fill="#e4dc1e"/><rect x="472.59" y="291.66" width="12.15" height="14.78" fill="#bab54c"/><rect x="484.44" y="291.66" width="12.15" height="14.78" fill="#bab54c"/><rect x="496.29" y="291.66" width="12.15" height="14.78" fill="#c6c03e"/><rect x="508.15" y="291.66" width="12.15" height="14.78" fill="#c6c03e"/><rect x="342.20" y="306.14" width="12.15" height="14.78" fill="#eee416"/><rect x="354.05" y="306.14" width="12.15" height="14.78" fill="#eee416"/><rect x="365.91" y="306.14" width="12.15" height="14.78" fill="#aeaa5e"/><rect x="377.76" y="306.14" width="12.15" height="14.78" fill="#d8d02a"/><rect x="389.61" y="306.14" width="12.15" height="14.78" fill="#aeaa5e"/><rect x="401.47" y="306.14" width="12.15" height="14.78" fill="#9b9980"/><rect x="413.32" y="306.14" width="12.15" height="14.78" fill="#9b9980"/><rect x="425.17" y="306.14" width="12.15" height="14.78" fill="#bab54c"/><rect x="437.03" y="306.14" width="12.15" height="14.78" fill="#c6c03e"/><rect x="448.88" y="306.14" width="12.15" height="14.78" fill="#c6c03e"/><rect x="460.73" y="306.14" width="12.15" height="14.78" fill="#bab54c"/><rect x="472.59" y="306.14" width="12.15" height="14.78" fill="#e4dc1e"/><rect x="484.44" y="306.14" width="12.15" height="14.78" fill="#a3a070"/><rect x="496.29" y="306.14" width="12.15" height="14.78" fill="#a3a070"/><rect x="508.15" y="306.14" width="12.15" height="14.78" fill="#bab54c"/><rect x="342.20" y="320.62" width="12.15" height="14.78" fill="#aeaa5e"/><rect x="354.05" y="320.62" width="12.15" height="14.78" fill="#e4dc1e"/><rect x="365.91" y="320.62" width="12.15" height="14.78" fill="#e4dc1e"/><rect x="377.76" y="320.62" width="12.15" height="14.78" fill="#eee416"/><rect x="389.61" y="320.62" width="12.15" height="14.78" fill="#eee416"/><rect x="401.47" y="320.62" width="12.15" height="14.78" fill="#a3a070"/><rect x="413.32" y="320.62" width="12.15" height="14.78" fill="#929192"/><rect x="425.17" y="320.62" width="12.15" height="14.78" fill="#d8d02a"/><rect x="437.03" y="320.62" width="12.15" height="14.78" fill="#e4dc1e"/><rect x="448.88" y="320.62" width="12.15" height="14.78" fill="#e4dc1e"/><rect x="460.73" y="320.62" width="12.15" height="14.78" fill="#bab54c"/><rect x="472.59" y="320.62" width="12.15" height="14.78" fill="#e4dc1e"/><rect x="484.44" y="320.62" width="12.15" height="14.78" fill="#a3a070"/><rect x="496.29" y="320.62" width="12.15" height="14.78" fill="#a3a070"/><rect x="508.15" y="320.62" width="12.15" height="14.78" fill="#d8d02a"/><rect x="342.20" y="335.09" width="12.15" height="14.78" fill="#eee416"/><rect x="354.05" y="335.09" width="12.15" height="14.78" fill="#e4dc1e"/><rect x="365.91" y="335.09" width="12.15" height="14.78" fill="#e4dc1e"/><rect x="377.76" y="335.09" width="12.15" height="14.78" fill="#bab54c"/><rect x="389.61" y="335.09" width="12.15" height="14.78" fill="#4e48aa"/><rect x="401.47" y="335.09" width="12.15" height="14.78" fill="#929192"/><rect x="413.32" y="335.09" width="12.15" height="14.78" fill="#9b9980"/><rect x="425.17" y="335.09" width="12.15" height="14.78" fill="#c6c03e"/><rect x="437.03" y="335.09" width="12.15" height="14.78" fill="#c6c03e"/><rect x="448.88" y="335.09" width="12.15" height="14.78" fill="#d2cb30"/><rect x="460.73" y="335.09" width="12.15" height="14.78" fill="#bab54c"/><rect x="472.59" y="335.09" width="12.15" height="14.78" fill="#e4dc1e"/><rect x="484.44" y="335.09" width="12.15" height="14.78" fill="#d8d02a"/><rect x="496.29" y="335.09" width="12.15" height="14.78" fill="#d8d02a"/><rect x="508.15" y="335.09" width="12.15" height="14.78" fill="#d8d02a"/><rect x="342.20" y="349.57" width="12.15" height="14.78" fill="#9b9980"/><rect x="354.05" y="349.57" width="12.15" height="14.78" fill="#9b9980"/><rect x="365.91" y="349.57" width="12.15" height="14.78" fill="#bab54c"/><rect x="377.76" y="349.57" width="12.15" height="14.78" fill="#c6c03e"/><rect x="389.61" y="349.57" width="12.15" height="14.78" fill="#bab54c"/><rect x="401.47" y="349.57" width="12.15" height="14.78" fill="#a3a070"/><rect x="413.32" y="349.57" width="12.15" height="14.78" fill="#929192"/><rect x="425.17" y="349.57" width="12.15" height="14.78" fill="#aeaa5e"/><rect x="437.03" y="349.57" width="12.15" height="14.78" fill="#aeaa5e"/><rect x="448.88" y="349.57" width="12.15" height="14.78" fill="#aeaa5e"/><rect x="460.73" y="349.57" width="12.15" height="14.78" fill="#bab54c"/><rect x="472.59" y="349.57" width="12.15" height="14.78" fill="#a3a070"/><rect x="484.44" y="349.57" width="12.15" height="14.78" fill="#a3a070"/><rect x="496.29" y="349.57" width="12.15" height="14.78" fill="#bab54c"/><rect x="508.15" y="349.57" width="12.15" height="14.78" fill="#aeaa5e"/><rect x="342.20" y="364.05" width="12.15" height="14.78" fill="#c6c03e"/><rect x="354.05" y="364.05" width="12.15" height="14.78" fill="#bab54c"/><rect x="365.91" y="364.05" width="12.15" height="14.78" fill="#c6c03e"/><rect x="377.76" y="364.05" width="12.15" height="14.78" fill="#bab54c"/><rect x="389.61" y="364.05" width="12.15" height="14.78" fill="#d8d02a"/><rect x="401.47" y="364.05" width="12.15" height="14.78" fill="#a3a070"/><rect x="413.32" y="364.05" width="12.15" height="14.78" fill="#aeaa5e"/><rect x="425.17" y="364.05" width="12.15" height="14.78" fill="#bab54c"/><rect x="437.03" y="364.05" width="12.15" height="14.78" fill="#c6c03e"/><rect x="448.88" y="364.05" width="12.15" height="14.78" fill="#c6c03e"/><rect x="460.73" y="364.05" width="12.15" height="14.78" fill="#aeaa5e"/><rect x="472.59" y="364.05" width="12.15" height="14.78" fill="#d8d02a"/><rect x="484.44" y="364.05" width="12.15" height="14.78" fill="#e4dc1e"/><rect x="496.29" y="364.05" width="12.15" height="14.78" fill="#d8d02a"/><rect x="508.15" y="364.05" width="12.15" height="14.78" fill="#d8d02a"/><rect x="342.20" y="378.52" width="12.15" height="14.78" fill="#bab54c"/><rect x="354.05" y="378.52" width="12.15" height="14.78" fill="#bab54c"/><rect x="365.91" y="378.52" width="12.15" height="14.78" fill="#bab54c"/><rect x="377.76" y="378.52" width="12.15" height="14.78" fill="#e4dc1e"/><rect x="389.61" y="378.52" width="12.15" height="14.78" fill="#e4dc1e"/><rect x="401.47" y="378.52" width="12.15" height="14.78" fill="#d8d02a"/><rect x="413.32" y="378.52" width="12.15" height="14.78" fill="#d8d02a"/><rect x="425.17" y="378.52" width="12.15" height="14.78" fill="#a3a070"/><rect x="437.03" y="378.52" width="12.15" height="14.78" fill="#bab54c"/><rect x="448.88" y="378.52" width="12.15" height="14.78" fill="#c6c03e"/><rect x="460.73" y="378.52" width="12.15" height="14.78" fill="#c6c03e"/><rect x="472.59" y="378.52" width="12.15" height="14.78" fill="#c6c03e"/><rect x="484.44" y="378.52" width="12.15" height="14.78" fill="#eee416"/><rect x="496.29" y="378.52" width="12.15" height="14.78" fill="#eee416"/><rect x="508.15" y="378.52" width="12.15" height="14.78" fill="#e4dc1e"/></g><path d="M348.13,146.90V101.50H359.98V146.90M371.83,146.90V115.80H383.69V146.90M354.05,101.50V75.60H377.76V115.80M407.39,146.90V123.00H419.25V146.90M395.54,146.90V96.20H413.32V123.00M442.95,146.90V129.40H454.81V146.90M431.10,146.90V114.40H448.88V129.40M466.66,146.90V113.50H478.51V146.90M502.22,146.90V130.40H514.07V146.90M490.37,146.90V124.60H508.15V130.40M472.59,113.50V102.90H499.26V124.60M439.99,114.40V92.00H485.92V102.90M404.43,96.20V86.50H462.96V92.00M365.91,75.60V58.00H433.69V86.50" fill="none" stroke="#000" stroke-width="2.5" stroke-linejoin="round"/><g fill="#000" stroke="#000" stroke-width="0.3"><text x="338.80" y="158.14" text-anchor="end" font-size="13">HDAC11</text><text x="338.80" y="172.61" text-anchor="end" font-size="13">SIRT5</text><text x="338.80" y="187.09" text-anchor="end" font-size="13">SIRT3</text><text x="338.80" y="201.57" text-anchor="end" font-size="13">HDAC8</text><text x="338.80" y="216.04" text-anchor="end" font-size="13">HDAC9</text><text x="338.80" y="230.52" text-anchor="end" font-size="13">SIRT7</text><text x="338.80" y="245.00" text-anchor="end" font-size="13">HDAC4</text><text x="338.80" y="259.47" text-anchor="end" font-size="13">SIRT6</text><text x="338.80" y="273.95" text-anchor="end" font-size="13">HDAC3</text><text x="338.80" y="288.43" text-anchor="end" font-size="13">HDAC6</text><text x="338.80" y="302.90" text-anchor="end" font-size="13">SIRT2</text><text x="338.80" y="317.38" text-anchor="end" font-size="13">HDAC5</text><text x="338.80" y="331.86" text-anchor="end" font-size="13">SIRT1</text><text x="338.80" y="346.33" text-anchor="end" font-size="13">HDAC7</text><text x="338.80" y="360.81" text-anchor="end" font-size="13">HDAC10</text><text x="338.80" y="375.29" text-anchor="end" font-size="13">HDAC1</text><text x="338.80" y="389.76" text-anchor="end" font-size="13">HDAC2</text><text transform="translate(343.63,396.00) rotate(90)" x="0" y="0" font-size="13.4">Neutrophils</text><text transform="translate(355.48,396.00) rotate(90)" x="0" y="0" font-size="13.4">Eosinophils</text><text transform="translate(367.33,396.00) rotate(90)" x="0" y="0" font-size="13.4">CD4 T cells</text><text transform="translate(379.19,396.00) rotate(90)" x="0" y="0" font-size="13.4">Mast cells</text><text transform="translate(391.04,396.00) rotate(90)" x="0" y="0" font-size="13.4">DC plasma</text><text transform="translate(402.89,396.00) rotate(90)" x="0" y="0" font-size="13.4">DC monocytes</text><text transform="translate(414.75,396.00) rotate(90)" x="0" y="0" font-size="13.4">Macrophages</text><text transform="translate(426.60,396.00) rotate(90)" x="0" y="0" font-size="13.4">Basophils</text><text transform="translate(438.45,396.00) rotate(90)" x="0" y="0" font-size="13.4">CD8 T cells</text><text transform="translate(450.31,396.00) rotate(90)" x="0" y="0" font-size="13.4">Nk cells</text><text transform="translate(462.16,396.00) rotate(90)" x="0" y="0" font-size="13.4">Monocytes</text><text transform="translate(474.01,396.00) rotate(90)" x="0" y="0" font-size="13.4">B cells</text><text transform="translate(485.87,396.00) rotate(90)" x="0" y="0" font-size="13.4">Progenitor1</text><text transform="translate(497.72,396.00) rotate(90)" x="0" y="0" font-size="13.4">Progenitor2</text><text transform="translate(509.57,396.00) rotate(90)" x="0" y="0" font-size="13.4">Progenitor3</text></g><g shape-rendering="crispEdges"><rect x="92.70" y="620.20" width="11.97" height="11.23" fill="#e4dc1e"/><rect x="104.37" y="620.20" width="11.97" height="11.23" fill="#e4dc1e"/><rect x="116.05" y="620.20" width="11.97" height="11.23" fill="#929192"/><rect x="127.72" y="620.20" width="11.97" height="11.23" fill="#929192"/><rect x="139.39" y="620.20" width="11.97" height="11.23" fill="#9b9980"/><rect x="151.07" y="620.20" width="11.97" height="11.23" fill="#a3a070"/><rect x="162.74" y="620.20" width="11.97" height="11.23" fill="#a3a070"/><rect x="174.41" y="620.20" width="11.97" height="11.23" fill="#aeaa5e"/><rect x="186.09" y="620.20" width="11.97" height="11.23" fill="#aeaa5e"/><rect x="197.76" y="620.20" width="11.97" height="11.23" fill="#aeaa5e"/><rect x="209.43" y="620.20" width="11.97" height="11.23" fill="#aeaa5e"/><rect x="221.11" y="620.20" width="11.97" height="11.23" fill="#eee416"/><rect x="232.78" y="620.20" width="11.97" height="11.23" fill="#e4dc1e"/><rect x="244.45" y="620.20" width="11.97" height="11.23" fill="#e4dc1e"/><rect x="256.13" y="620.20" width="11.97" height="11.23" fill="#e4dc1e"/><rect x="92.70" y="631.13" width="11.97" height="11.23" fill="#e4dc1e"/><rect x="104.37" y="631.13" width="11.97" height="11.23" fill="#eee416"/><rect x="116.05" y="631.13" width="11.97" height="11.23" fill="#9b9980"/><rect x="127.72" y="631.13" width="11.97" height="11.23" fill="#a3a070"/><rect x="139.39" y="631.13" width="11.97" height="11.23" fill="#a3a070"/><rect x="151.07" y="631.13" width="11.97" height="11.23" fill="#aeaa5e"/><rect x="162.74" y="631.13" width="11.97" height="11.23" fill="#d2cb30"/><rect x="174.41" y="631.13" width="11.97" height="11.23" fill="#e4dc1e"/><rect x="186.09" y="631.13" width="11.97" height="11.23" fill="#bab54c"/><rect x="197.76" y="631.13" width="11.97" height="11.23" fill="#bab54c"/><rect x="209.43" y="631.13" width="11.97" height="11.23" fill="#e4dc1e"/><rect x="221.11" y="631.13" width="11.97" height="11.23" fill="#bab54c"/><rect x="232.78" y="631.13" width="11.97" height="11.23" fill="#e4dc1e"/><rect x="244.45" y="631.13" width="11.97" height="11.23" fill="#e4dc1e"/><rect x="256.13" y="631.13" width="11.97" height="11.23" fill="#e4dc1e"/><rect x="92.70" y="642.06" width="11.97" height="11.23" fill="#6e6aaa"/><rect x="104.37" y="642.06" width="11.97" height="11.23" fill="#88869c"/><rect x="116.05" y="642.06" width="11.97" height="11.23" fill="#4e48aa"/><rect x="127.72" y="642.06" width="11.97" height="11.23" fill="#7a77a6"/><rect x="139.39" y="642.06" width="11.97" height="11.23" fill="#aeaa5e"/><rect x="151.07" y="642.06" width="11.97" height="11.23" fill="#aeaa5e"/><rect x="162.74" y="642.06" width="11.97" height="11.23" fill="#aeaa5e"/><rect x="174.41" y="642.06" width="11.97" height="11.23" fill="#c6c03e"/><rect x="186.09" y="642.06" width="11.97" height="11.23" fill="#929192"/><rect x="197.76" y="642.06" width="11.97" height="11.23" fill="#aeaa5e"/><rect x="209.43" y="642.06" width="11.97" height="11.23" fill="#929192"/><rect x="221.11" y="642.06" width="11.97" height="11.23" fill="#d2cb30"/><rect x="232.78" y="642.06" width="11.97" height="11.23" fill="#d2cb30"/><rect x="244.45" y="642.06" width="11.97" height="11.23" fill="#d2cb30"/><rect x="256.13" y="642.06" width="11.97" height="11.23" fill="#d2cb30"/><rect x="92.70" y="653.00" width="11.97" height="11.23" fill="#c6c03e"/><rect x="104.37" y="653.00" width="11.97" height="11.23" fill="#e4dc1e"/><rect x="116.05" y="653.00" width="11.97" height="11.23" fill="#7a77a6"/><rect x="127.72" y="653.00" width="11.97" height="11.23" fill="#aeaa5e"/><rect x="139.39" y="653.00" width="11.97" height="11.23" fill="#aeaa5e"/><rect x="151.07" y="653.00" width="11.97" height="11.23" fill="#aeaa5e"/><rect x="162.74" y="653.00" width="11.97" height="11.23" fill="#aeaa5e"/><rect x="174.41" y="653.00" width="11.97" height="11.23" fill="#c6c03e"/><rect x="186.09" y="653.00" width="11.97" height="11.23" fill="#929192"/><rect x="197.76" y="653.00" width="11.97" height="11.23" fill="#a3a070"/><rect x="209.43" y="653.00" width="11.97" height="11.23" fill="#929192"/><rect x="221.11" y="653.00" width="11.97" height="11.23" fill="#929192"/><rect x="232.78" y="653.00" width="11.97" height="11.23" fill="#929192"/><rect x="244.45" y="653.00" width="11.97" height="11.23" fill="#88869c"/><rect x="256.13" y="653.00" width="11.97" height="11.23" fill="#88869c"/><rect x="92.70" y="663.93" width="11.97" height="11.23" fill="#d8d02a"/><rect x="104.37" y="663.93" width="11.97" height="11.23" fill="#e4dc1e"/><rect x="116.05" y="663.93" width="11.97" height="11.23" fill="#88869c"/><rect x="127.72" y="663.93" width="11.97" height="11.23" fill="#88869c"/><rect x="139.39" y="663.93" width="11.97" height="11.23" fill="#88869c"/><rect x="151.07" y="663.93" width="11.97" height="11.23" fill="#88869c"/><rect x="162.74" y="663.93" width="11.97" height="11.23" fill="#929192"/><rect x="174.41" y="663.93" width="11.97" height="11.23" fill="#9b9980"/><rect x="186.09" y="663.93" width="11.97" height="11.23" fill="#aeaa5e"/><rect x="197.76" y="663.93" width="11.97" height="11.23" fill="#929192"/><rect x="209.43" y="663.93" width="11.97" height="11.23" fill="#c6c03e"/><rect x="221.11" y="663.93" width="11.97" height="11.23" fill="#d2cb30"/><rect x="232.78" y="663.93" width="11.97" height="11.23" fill="#bab54c"/><rect x="244.45" y="663.93" width="11.97" height="11.23" fill="#bab54c"/><rect x="256.13" y="663.93" width="11.97" height="11.23" fill="#c6c03e"/><rect x="92.70" y="674.86" width="11.97" height="11.23" fill="#c6c03e"/><rect x="104.37" y="674.86" width="11.97" height="11.23" fill="#a3a070"/><rect x="116.05" y="674.86" width="11.97" height="11.23" fill="#6e6aaa"/><rect x="127.72" y="674.86" width="11.97" height="11.23" fill="#605cb0"/><rect x="139.39" y="674.86" width="11.97" height="11.23" fill="#88869c"/><rect x="151.07" y="674.86" width="11.97" height="11.23" fill="#88869c"/><rect x="162.74" y="674.86" width="11.97" height="11.23" fill="#929192"/><rect x="174.41" y="674.86" width="11.97" height="11.23" fill="#aeaa5e"/><rect x="186.09" y="674.86" width="11.97" height="11.23" fill="#88869c"/><rect x="197.76" y="674.86" width="11.97" height="11.23" fill="#88869c"/><rect x="209.43" y="674.86" width="11.97" height="11.23" fill="#c6c03e"/><rect x="221.11" y="674.86" width="11.97" height="11.23" fill="#a3a070"/><rect x="232.78" y="674.86" width="11.97" height="11.23" fill="#a3a070"/><rect x="244.45" y="674.86" width="11.97" height="11.23" fill="#a3a070"/><rect x="256.13" y="674.86" width="11.97" height="11.23" fill="#a3a070"/><rect x="92.70" y="685.79" width="11.97" height="11.23" fill="#c6c03e"/><rect x="104.37" y="685.79" width="11.97" height="11.23" fill="#aeaa5e"/><rect x="116.05" y="685.79" width="11.97" height="11.23" fill="#88869c"/><rect x="127.72" y="685.79" width="11.97" height="11.23" fill="#7a77a6"/><rect x="139.39" y="685.79" width="11.97" height="11.23" fill="#88869c"/><rect x="151.07" y="685.79" width="11.97" height="11.23" fill="#88869c"/><rect x="162.74" y="685.79" width="11.97" height="11.23" fill="#929192"/><rect x="174.41" y="685.79" width="11.97" height="11.23" fill="#c6c03e"/><rect x="186.09" y="685.79" width="11.97" height="11.23" fill="#aeaa5e"/><rect x="197.76" y="685.79" width="11.97" height="11.23" fill="#aeaa5e"/><rect x="209.43" y="685.79" width="11.97" height="11.23" fill="#c6c03e"/><rect x="221.11" y="685.79" width="11.97" height="11.23" fill="#aeaa5e"/><rect x="232.78" y="685.79" width="11.97" height="11.23" fill="#c6c03e"/><rect x="244.45" y="685.79" width="11.97" height="11.23" fill="#c6c03e"/><rect x="256.13" y="685.79" width="11.97" height="11.23" fill="#bab54c"/><rect x="92.70" y="696.72" width="11.97" height="11.23" fill="#4642a2"/><rect x="104.37" y="696.72" width="11.97" height="11.23" fill="#4642a2"/><rect x="116.05" y="696.72" width="11.97" height="11.23" fill="#4642a2"/><rect x="127.72" y="696.72" width="11.97" height="11.23" fill="#4e48aa"/><rect x="139.39" y="696.72" width="11.97" height="11.23" fill="#a3a070"/><rect x="151.07" y="696.72" width="11.97" height="11.23" fill="#a3a070"/><rect x="162.74" y="696.72" width="11.97" height="11.23" fill="#9b9980"/><rect x="174.41" y="696.72" width="11.97" height="11.23" fill="#4642a2"/><rect x="186.09" y="696.72" width="11.97" height="11.23" fill="#4642a2"/><rect x="197.76" y="696.72" width="11.97" height="11.23" fill="#4642a2"/><rect x="209.43" y="696.72" width="11.97" height="11.23" fill="#4642a2"/><rect x="221.11" y="696.72" width="11.97" height="11.23" fill="#4642a2"/><rect x="232.78" y="696.72" width="11.97" height="11.23" fill="#4642a2"/><rect x="244.45" y="696.72" width="11.97" height="11.23" fill="#4642a2"/><rect x="256.13" y="696.72" width="11.97" height="11.23" fill="#4e48aa"/><rect x="92.70" y="707.66" width="11.97" height="11.23" fill="#4642a2"/><rect x="104.37" y="707.66" width="11.97" height="11.23" fill="#4642a2"/><rect x="116.05" y="707.66" width="11.97" height="11.23" fill="#4642a2"/><rect x="127.72" y="707.66" width="11.97" height="11.23" fill="#4642a2"/><rect x="139.39" y="707.66" width="11.97" height="11.23" fill="#4642a2"/><rect x="151.07" y="707.66" width="11.97" height="11.23" fill="#4e48aa"/><rect x="162.74" y="707.66" width="11.97" height="11.23" fill="#4e48aa"/><rect x="174.41" y="707.66" width="11.97" height="11.23" fill="#4e48aa"/><rect x="186.09" y="707.66" width="11.97" height="11.23" fill="#4642a2"/><rect x="197.76" y="707.66" width="11.97" height="11.23" fill="#4642a2"/><rect x="209.43" y="707.66" width="11.97" height="11.23" fill="#4642a2"/><rect x="221.11" y="707.66" width="11.97" height="11.23" fill="#4e48aa"/><rect x="232.78" y="707.66" width="11.97" height="11.23" fill="#4642a2"/><rect x="244.45" y="707.66" width="11.97" height="11.23" fill="#4642a2"/><rect x="256.13" y="707.66" width="11.97" height="11.23" fill="#4e48aa"/><rect x="92.70" y="718.59" width="11.97" height="11.23" fill="#4642a2"/><rect x="104.37" y="718.59" width="11.97" height="11.23" fill="#4642a2"/><rect x="116.05" y="718.59" width="11.97" height="11.23" fill="#4642a2"/><rect x="127.72" y="718.59" width="11.97" height="11.23" fill="#4642a2"/><rect x="139.39" y="718.59" width="11.97" height="11.23" fill="#6e6aaa"/><rect x="151.07" y="718.59" width="11.97" height="11.23" fill="#88869c"/><rect x="162.74" y="718.59" width="11.97" height="11.23" fill="#88869c"/><rect x="174.41" y="718.59" width="11.97" height="11.23" fill="#4e48aa"/><rect x="186.09" y="718.59" width="11.97" height="11.23" fill="#4642a2"/><rect x="197.76" y="718.59" width="11.97" height="11.23" fill="#4642a2"/><rect x="209.43" y="718.59" width="11.97" height="11.23" fill="#4642a2"/><rect x="221.11" y="718.59" width="11.97" height="11.23" fill="#605cb0"/><rect x="232.78" y="718.59" width="11.97" height="11.23" fill="#4e48aa"/><rect x="244.45" y="718.59" width="11.97" height="11.23" fill="#4642a2"/><rect x="256.13" y="718.59" width="11.97" height="11.23" fill="#4642a2"/><rect x="92.70" y="729.52" width="11.97" height="11.23" fill="#4642a2"/><rect x="104.37" y="729.52" width="11.97" height="11.23" fill="#6e6aaa"/><rect x="116.05" y="729.52" width="11.97" height="11.23" fill="#4e48aa"/><rect x="127.72" y="729.52" width="11.97" height="11.23" fill="#524eb0"/><rect x="139.39" y="729.52" width="11.97" height="11.23" fill="#524eb0"/><rect x="151.07" y="729.52" width="11.97" height="11.23" fill="#524eb0"/><rect x="162.74" y="729.52" width="11.97" height="11.23" fill="#524eb0"/><rect x="174.41" y="729.52" width="11.97" height="11.23" fill="#4642a2"/><rect x="186.09" y="729.52" width="11.97" height="11.23" fill="#88869c"/><rect x="197.76" y="729.52" width="11.97" height="11.23" fill="#6e6aaa"/><rect x="209.43" y="729.52" width="11.97" height="11.23" fill="#7a77a6"/><rect x="221.11" y="729.52" width="11.97" height="11.23" fill="#7a77a6"/><rect x="232.78" y="729.52" width="11.97" height="11.23" fill="#929192"/><rect x="244.45" y="729.52" width="11.97" height="11.23" fill="#929192"/><rect x="256.13" y="729.52" width="11.97" height="11.23" fill="#929192"/><rect x="92.70" y="740.45" width="11.97" height="11.23" fill="#4642a2"/><rect x="104.37" y="740.45" width="11.97" height="11.23" fill="#4e48aa"/><rect x="116.05" y="740.45" width="11.97" height="11.23" fill="#88869c"/><rect x="127.72" y="740.45" width="11.97" height="11.23" fill="#7a77a6"/><rect x="139.39" y="740.45" width="11.97" height="11.23" fill="#88869c"/><rect x="151.07" y="740.45" width="11.97" height="11.23" fill="#9b9980"/><rect x="162.74" y="740.45" width="11.97" height="11.23" fill="#aeaa5e"/><rect x="174.41" y="740.45" width="11.97" height="11.23" fill="#a3a070"/><rect x="186.09" y="740.45" width="11.97" height="11.23" fill="#88869c"/><rect x="197.76" y="740.45" width="11.97" height="11.23" fill="#4e48aa"/><rect x="209.43" y="740.45" width="11.97" height="11.23" fill="#929192"/><rect x="221.11" y="740.45" width="11.97" height="11.23" fill="#7a77a6"/><rect x="232.78" y="740.45" width="11.97" height="11.23" fill="#929192"/><rect x="244.45" y="740.45" width="11.97" height="11.23" fill="#6e6aaa"/><rect x="256.13" y="740.45" width="11.97" height="11.23" fill="#929192"/><rect x="92.70" y="751.38" width="11.97" height="11.23" fill="#4e48aa"/><rect x="104.37" y="751.38" width="11.97" height="11.23" fill="#88869c"/><rect x="116.05" y="751.38" width="11.97" height="11.23" fill="#4642a2"/><rect x="127.72" y="751.38" width="11.97" height="11.23" fill="#4642a2"/><rect x="139.39" y="751.38" width="11.97" height="11.23" fill="#929192"/><rect x="151.07" y="751.38" width="11.97" height="11.23" fill="#929192"/><rect x="162.74" y="751.38" width="11.97" height="11.23" fill="#929192"/><rect x="174.41" y="751.38" width="11.97" height="11.23" fill="#bab54c"/><rect x="186.09" y="751.38" width="11.97" height="11.23" fill="#88869c"/><rect x="197.76" y="751.38" width="11.97" height="11.23" fill="#9b9980"/><rect x="209.43" y="751.38" width="11.97" height="11.23" fill="#4e48aa"/><rect x="221.11" y="751.38" width="11.97" height="11.23" fill="#4e48aa"/><rect x="232.78" y="751.38" width="11.97" height="11.23" fill="#a3a070"/><rect x="244.45" y="751.38" width="11.97" height="11.23" fill="#a3a070"/><rect x="256.13" y="751.38" width="11.97" height="11.23" fill="#a3a070"/><rect x="92.70" y="762.32" width="11.97" height="11.23" fill="#524eb0"/><rect x="104.37" y="762.32" width="11.97" height="11.23" fill="#88869c"/><rect x="116.05" y="762.32" width="11.97" height="11.23" fill="#4642a2"/><rect x="127.72" y="762.32" width="11.97" height="11.23" fill="#524eb0"/><rect x="139.39" y="762.32" width="11.97" height="11.23" fill="#605cb0"/><rect x="151.07" y="762.32" width="11.97" height="11.23" fill="#605cb0"/><rect x="162.74" y="762.32" width="11.97" height="11.23" fill="#6e6aaa"/><rect x="174.41" y="762.32" width="11.97" height="11.23" fill="#6e6aaa"/><rect x="186.09" y="762.32" width="11.97" height="11.23" fill="#6e6aaa"/><rect x="197.76" y="762.32" width="11.97" height="11.23" fill="#88869c"/><rect x="209.43" y="762.32" width="11.97" height="11.23" fill="#a3a070"/><rect x="221.11" y="762.32" width="11.97" height="11.23" fill="#a3a070"/><rect x="232.78" y="762.32" width="11.97" height="11.23" fill="#a3a070"/><rect x="244.45" y="762.32" width="11.97" height="11.23" fill="#a3a070"/><rect x="256.13" y="762.32" width="11.97" height="11.23" fill="#a3a070"/><rect x="92.70" y="773.25" width="11.97" height="11.23" fill="#929192"/><rect x="104.37" y="773.25" width="11.97" height="11.23" fill="#929192"/><rect x="116.05" y="773.25" width="11.97" height="11.23" fill="#4642a2"/><rect x="127.72" y="773.25" width="11.97" height="11.23" fill="#4e48aa"/><rect x="139.39" y="773.25" width="11.97" height="11.23" fill="#4e48aa"/><rect x="151.07" y="773.25" width="11.97" height="11.23" fill="#524eb0"/><rect x="162.74" y="773.25" width="11.97" height="11.23" fill="#4e48aa"/><rect x="174.41" y="773.25" width="11.97" height="11.23" fill="#929192"/><rect x="186.09" y="773.25" width="11.97" height="11.23" fill="#524eb0"/><rect x="197.76" y="773.25" width="11.97" height="11.23" fill="#4e48aa"/><rect x="209.43" y="773.25" width="11.97" height="11.23" fill="#7a77a6"/><rect x="221.11" y="773.25" width="11.97" height="11.23" fill="#929192"/><rect x="232.78" y="773.25" width="11.97" height="11.23" fill="#929192"/><rect x="244.45" y="773.25" width="11.97" height="11.23" fill="#929192"/><rect x="256.13" y="773.25" width="11.97" height="11.23" fill="#929192"/><rect x="92.70" y="784.18" width="11.97" height="11.23" fill="#a3a070"/><rect x="104.37" y="784.18" width="11.97" height="11.23" fill="#88869c"/><rect x="116.05" y="784.18" width="11.97" height="11.23" fill="#4642a2"/><rect x="127.72" y="784.18" width="11.97" height="11.23" fill="#4e48aa"/><rect x="139.39" y="784.18" width="11.97" height="11.23" fill="#4e48aa"/><rect x="151.07" y="784.18" width="11.97" height="11.23" fill="#4e48aa"/><rect x="162.74" y="784.18" width="11.97" height="11.23" fill="#4e48aa"/><rect x="174.41" y="784.18" width="11.97" height="11.23" fill="#88869c"/><rect x="186.09" y="784.18" width="11.97" height="11.23" fill="#7a77a6"/><rect x="197.76" y="784.18" width="11.97" height="11.23" fill="#524eb0"/><rect x="209.43" y="784.18" width="11.97" height="11.23" fill="#524eb0"/><rect x="221.11" y="784.18" width="11.97" height="11.23" fill="#929192"/><rect x="232.78" y="784.18" width="11.97" height="11.23" fill="#88869c"/><rect x="244.45" y="784.18" width="11.97" height="11.23" fill="#88869c"/><rect x="256.13" y="784.18" width="11.97" height="11.23" fill="#88869c"/><rect x="92.70" y="795.11" width="11.97" height="11.23" fill="#4642a2"/><rect x="104.37" y="795.11" width="11.97" height="11.23" fill="#bab54c"/><rect x="116.05" y="795.11" width="11.97" height="11.23" fill="#bab54c"/><rect x="127.72" y="795.11" width="11.97" height="11.23" fill="#aeaa5e"/><rect x="139.39" y="795.11" width="11.97" height="11.23" fill="#88869c"/><rect x="151.07" y="795.11" width="11.97" height="11.23" fill="#a3a070"/><rect x="162.74" y="795.11" width="11.97" height="11.23" fill="#aeaa5e"/><rect x="174.41" y="795.11" width="11.97" height="11.23" fill="#4e48aa"/><rect x="186.09" y="795.11" width="11.97" height="11.23" fill="#aeaa5e"/><rect x="197.76" y="795.11" width="11.97" height="11.23" fill="#aeaa5e"/><rect x="209.43" y="795.11" width="11.97" height="11.23" fill="#d8d02a"/><rect x="221.11" y="795.11" width="11.97" height="11.23" fill="#d8d02a"/><rect x="232.78" y="795.11" width="11.97" height="11.23" fill="#aeaa5e"/><rect x="244.45" y="795.11" width="11.97" height="11.23" fill="#aeaa5e"/><rect x="256.13" y="795.11" width="11.97" height="11.23" fill="#c6c03e"/><rect x="92.70" y="806.04" width="11.97" height="11.23" fill="#4642a2"/><rect x="104.37" y="806.04" width="11.97" height="11.23" fill="#929192"/><rect x="116.05" y="806.04" width="11.97" height="11.23" fill="#6e6aaa"/><rect x="127.72" y="806.04" width="11.97" height="11.23" fill="#4e48aa"/><rect x="139.39" y="806.04" width="11.97" height="11.23" fill="#929192"/><rect x="151.07" y="806.04" width="11.97" height="11.23" fill="#a3a070"/><rect x="162.74" y="806.04" width="11.97" height="11.23" fill="#aeaa5e"/><rect x="174.41" y="806.04" width="11.97" height="11.23" fill="#88869c"/><rect x="186.09" y="806.04" width="11.97" height="11.23" fill="#4642a2"/><rect x="197.76" y="806.04" width="11.97" height="11.23" fill="#929192"/><rect x="209.43" y="806.04" width="11.97" height="11.23" fill="#929192"/><rect x="221.11" y="806.04" width="11.97" height="11.23" fill="#929192"/><rect x="232.78" y="806.04" width="11.97" height="11.23" fill="#a3a070"/><rect x="244.45" y="806.04" width="11.97" height="11.23" fill="#929192"/><rect x="256.13" y="806.04" width="11.97" height="11.23" fill="#88869c"/><rect x="92.70" y="816.98" width="11.97" height="11.23" fill="#4642a2"/><rect x="104.37" y="816.98" width="11.97" height="11.23" fill="#9b9980"/><rect x="116.05" y="816.98" width="11.97" height="11.23" fill="#88869c"/><rect x="127.72" y="816.98" width="11.97" height="11.23" fill="#bab54c"/><rect x="139.39" y="816.98" width="11.97" height="11.23" fill="#aeaa5e"/><rect x="151.07" y="816.98" width="11.97" height="11.23" fill="#aeaa5e"/><rect x="162.74" y="816.98" width="11.97" height="11.23" fill="#bab54c"/><rect x="174.41" y="816.98" width="11.97" height="11.23" fill="#929192"/><rect x="186.09" y="816.98" width="11.97" height="11.23" fill="#929192"/><rect x="197.76" y="816.98" width="11.97" height="11.23" fill="#bab54c"/><rect x="209.43" y="816.98" width="11.97" height="11.23" fill="#929192"/><rect x="221.11" y="816.98" width="11.97" height="11.23" fill="#c6c03e"/><rect x="232.78" y="816.98" width="11.97" height="11.23" fill="#929192"/><rect x="244.45" y="816.98" width="11.97" height="11.23" fill="#929192"/><rect x="256.13" y="816.98" width="11.97" height="11.23" fill="#929192"/><rect x="92.70" y="827.91" width="11.97" height="11.23" fill="#aeaa5e"/><rect x="104.37" y="827.91" width="11.97" height="11.23" fill="#bab54c"/><rect x="116.05" y="827.91" width="11.97" height="11.23" fill="#88869c"/><rect x="127.72" y="827.91" width="11.97" height="11.23" fill="#6e6aaa"/><rect x="139.39" y="827.91" width="11.97" height="11.23" fill="#a3a070"/><rect x="151.07" y="827.91" width="11.97" height="11.23" fill="#a3a070"/><rect x="162.74" y="827.91" width="11.97" height="11.23" fill="#929192"/><rect x="174.41" y="827.91" width="11.97" height="11.23" fill="#88869c"/><rect x="186.09" y="827.91" width="11.97" height="11.23" fill="#605cb0"/><rect x="197.76" y="827.91" width="11.97" height="11.23" fill="#88869c"/><rect x="209.43" y="827.91" width="11.97" height="11.23" fill="#88869c"/><rect x="221.11" y="827.91" width="11.97" height="11.23" fill="#88869c"/><rect x="232.78" y="827.91" width="11.97" height="11.23" fill="#6e6aaa"/><rect x="244.45" y="827.91" width="11.97" height="11.23" fill="#4e48aa"/><rect x="256.13" y="827.91" width="11.97" height="11.23" fill="#6e6aaa"/><rect x="92.70" y="838.84" width="11.97" height="11.23" fill="#929192"/><rect x="104.37" y="838.84" width="11.97" height="11.23" fill="#a3a070"/><rect x="116.05" y="838.84" width="11.97" height="11.23" fill="#6e6aaa"/><rect x="127.72" y="838.84" width="11.97" height="11.23" fill="#88869c"/><rect x="139.39" y="838.84" width="11.97" height="11.23" fill="#929192"/><rect x="151.07" y="838.84" width="11.97" height="11.23" fill="#aeaa5e"/><rect x="162.74" y="838.84" width="11.97" height="11.23" fill="#aeaa5e"/><rect x="174.41" y="838.84" width="11.97" height="11.23" fill="#a3a070"/><rect x="186.09" y="838.84" width="11.97" height="11.23" fill="#a3a070"/><rect x="197.76" y="838.84" width="11.97" height="11.23" fill="#929192"/><rect x="209.43" y="838.84" width="11.97" height="11.23" fill="#aeaa5e"/><rect x="221.11" y="838.84" width="11.97" height="11.23" fill="#aeaa5e"/><rect x="232.78" y="838.84" width="11.97" height="11.23" fill="#88869c"/><rect x="244.45" y="838.84" width="11.97" height="11.23" fill="#6e6aaa"/><rect x="256.13" y="838.84" width="11.97" height="11.23" fill="#6e6aaa"/><rect x="92.70" y="849.77" width="11.97" height="11.23" fill="#929192"/><rect x="104.37" y="849.77" width="11.97" height="11.23" fill="#9b9980"/><rect x="116.05" y="849.77" width="11.97" height="11.23" fill="#524eb0"/><rect x="127.72" y="849.77" width="11.97" height="11.23" fill="#524eb0"/><rect x="139.39" y="849.77" width="11.97" height="11.23" fill="#88869c"/><rect x="151.07" y="849.77" width="11.97" height="11.23" fill="#88869c"/><rect x="162.74" y="849.77" width="11.97" height="11.23" fill="#929192"/><rect x="174.41" y="849.77" width="11.97" height="11.23" fill="#88869c"/><rect x="186.09" y="849.77" width="11.97" height="11.23" fill="#7a77a6"/><rect x="197.76" y="849.77" width="11.97" height="11.23" fill="#7a77a6"/><rect x="209.43" y="849.77" width="11.97" height="11.23" fill="#7a77a6"/><rect x="221.11" y="849.77" width="11.97" height="11.23" fill="#88869c"/><rect x="232.78" y="849.77" width="11.97" height="11.23" fill="#929192"/><rect x="244.45" y="849.77" width="11.97" height="11.23" fill="#9b9980"/><rect x="256.13" y="849.77" width="11.97" height="11.23" fill="#9b9980"/><rect x="92.70" y="860.70" width="11.97" height="11.23" fill="#a3a070"/><rect x="104.37" y="860.70" width="11.97" height="11.23" fill="#c6c03e"/><rect x="116.05" y="860.70" width="11.97" height="11.23" fill="#4642a2"/><rect x="127.72" y="860.70" width="11.97" height="11.23" fill="#4642a2"/><rect x="139.39" y="860.70" width="11.97" height="11.23" fill="#524eb0"/><rect x="151.07" y="860.70" width="11.97" height="11.23" fill="#605cb0"/><rect x="162.74" y="860.70" width="11.97" height="11.23" fill="#605cb0"/><rect x="174.41" y="860.70" width="11.97" height="11.23" fill="#929192"/><rect x="186.09" y="860.70" width="11.97" height="11.23" fill="#605cb0"/><rect x="197.76" y="860.70" width="11.97" height="11.23" fill="#88869c"/><rect x="209.43" y="860.70" width="11.97" height="11.23" fill="#929192"/><rect x="221.11" y="860.70" width="11.97" height="11.23" fill="#7a77a6"/><rect x="232.78" y="860.70" width="11.97" height="11.23" fill="#929192"/><rect x="244.45" y="860.70" width="11.97" height="11.23" fill="#929192"/><rect x="256.13" y="860.70" width="11.97" height="11.23" fill="#929192"/><rect x="92.70" y="871.64" width="11.97" height="11.23" fill="#aeaa5e"/><rect x="104.37" y="871.64" width="11.97" height="11.23" fill="#c6c03e"/><rect x="116.05" y="871.64" width="11.97" height="11.23" fill="#88869c"/><rect x="127.72" y="871.64" width="11.97" height="11.23" fill="#605cb0"/><rect x="139.39" y="871.64" width="11.97" height="11.23" fill="#6e6aaa"/><rect x="151.07" y="871.64" width="11.97" height="11.23" fill="#88869c"/><rect x="162.74" y="871.64" width="11.97" height="11.23" fill="#929192"/><rect x="174.41" y="871.64" width="11.97" height="11.23" fill="#929192"/><rect x="186.09" y="871.64" width="11.97" height="11.23" fill="#88869c"/><rect x="197.76" y="871.64" width="11.97" height="11.23" fill="#88869c"/><rect x="209.43" y="871.64" width="11.97" height="11.23" fill="#bab54c"/><rect x="221.11" y="871.64" width="11.97" height="11.23" fill="#7a77a6"/><rect x="232.78" y="871.64" width="11.97" height="11.23" fill="#929192"/><rect x="244.45" y="871.64" width="11.97" height="11.23" fill="#88869c"/><rect x="256.13" y="871.64" width="11.97" height="11.23" fill="#88869c"/><rect x="92.70" y="882.57" width="11.97" height="11.23" fill="#aeaa5e"/><rect x="104.37" y="882.57" width="11.97" height="11.23" fill="#c6c03e"/><rect x="116.05" y="882.57" width="11.97" height="11.23" fill="#88869c"/><rect x="127.72" y="882.57" width="11.97" height="11.23" fill="#6e6aaa"/><rect x="139.39" y="882.57" width="11.97" height="11.23" fill="#929192"/><rect x="151.07" y="882.57" width="11.97" height="11.23" fill="#929192"/><rect x="162.74" y="882.57" width="11.97" height="11.23" fill="#a3a070"/><rect x="174.41" y="882.57" width="11.97" height="11.23" fill="#929192"/><rect x="186.09" y="882.57" width="11.97" height="11.23" fill="#a3a070"/><rect x="197.76" y="882.57" width="11.97" height="11.23" fill="#a3a070"/><rect x="209.43" y="882.57" width="11.97" height="11.23" fill="#a3a070"/><rect x="221.11" y="882.57" width="11.97" height="11.23" fill="#aeaa5e"/><rect x="232.78" y="882.57" width="11.97" height="11.23" fill="#a3a070"/><rect x="244.45" y="882.57" width="11.97" height="11.23" fill="#a3a070"/><rect x="256.13" y="882.57" width="11.97" height="11.23" fill="#a3a070"/></g><path d="M98.84,620.20V566.40H110.51V620.20M122.18,620.20V591.10H133.86V620.20M157.20,620.20V603.70H168.88V620.20M145.53,620.20V595.10H163.04V603.70M192.22,620.20V594.60H203.90V620.20M250.59,620.20V607.30H262.26V620.20M238.92,620.20V602.70H256.43V607.30M227.24,620.20V590.20H247.67V602.70M215.57,620.20V587.60H237.46V590.20M198.06,594.60V582.50H226.51V587.60M180.55,620.20V570.40H212.29V582.50M154.29,595.10V561.20H196.42V570.40M128.02,591.10V545.10H175.35V561.20M104.67,566.40V529.00H151.69V545.10" fill="none" stroke="#000" stroke-width="2.5" stroke-linejoin="round"/><g fill="#000" stroke="#000" stroke-width="0.3"><text x="91.60" y="630.57" text-anchor="end" font-size="13">PRDM2</text><text x="91.60" y="641.50" text-anchor="end" font-size="13">MLL5</text><text x="91.60" y="652.43" text-anchor="end" font-size="13">MLL</text><text x="91.60" y="663.36" text-anchor="end" font-size="13">DOT1L</text><text x="91.60" y="674.29" text-anchor="end" font-size="13">MLL3</text><text x="91.60" y="685.23" text-anchor="end" font-size="13">SETD2</text><text x="91.60" y="696.16" text-anchor="end" font-size="13">SETD1B</text><text x="91.60" y="707.09" text-anchor="end" font-size="13">SUV39H2</text><text x="91.60" y="718.02" text-anchor="end" font-size="13">SUV39H1</text><text x="91.60" y="728.95" text-anchor="end" font-size="13">SETD6</text><text x="91.60" y="739.89" text-anchor="end" font-size="13">SMYD2</text><text x="91.60" y="750.82" text-anchor="end" font-size="13">EHMT2</text><text x="91.60" y="761.75" text-anchor="end" font-size="13">SUV420H2</text><text x="91.60" y="772.68" text-anchor="end" font-size="13">SETD1A</text><text x="91.60" y="783.61" text-anchor="end" font-size="13">ASH1L</text><text x="91.60" y="794.55" text-anchor="end" font-size="13">EZH1</text><text x="91.60" y="805.48" text-anchor="end" font-size="13">SETD7</text><text x="91.60" y="816.41" text-anchor="end" font-size="13">EZH2</text><text x="91.60" y="827.34" text-anchor="end" font-size="13">SETDB2</text><text x="91.60" y="838.27" text-anchor="end" font-size="13">SETD8</text><text x="91.60" y="849.21" text-anchor="end" font-size="13">SETDB1</text><text x="91.60" y="860.14" text-anchor="end" font-size="13">EHMT1</text><text x="91.60" y="871.07" text-anchor="end" font-size="13">MLL4</text><text x="91.60" y="882.00" text-anchor="end" font-size="13">SUV420H1</text><text x="91.60" y="892.93" text-anchor="end" font-size="13">NSD1</text><text transform="translate(94.84,896.50) rotate(90)" x="0" y="0" font-size="13.4">Neutrophils</text><text transform="translate(106.51,896.50) rotate(90)" x="0" y="0" font-size="13.4">Eosinophils</text><text transform="translate(118.18,896.50) rotate(90)" x="0" y="0" font-size="13.4">DC monocytes</text><text transform="translate(129.86,896.50) rotate(90)" x="0" y="0" font-size="13.4">Macrophages</text><text transform="translate(141.53,896.50) rotate(90)" x="0" y="0" font-size="13.4">Progenitor1</text><text transform="translate(153.20,896.50) rotate(90)" x="0" y="0" font-size="13.4">Progenitor2</text><text transform="translate(164.88,896.50) rotate(90)" x="0" y="0" font-size="13.4">Progenitor3</text><text transform="translate(176.55,896.50) rotate(90)" x="0" y="0" font-size="13.4">Mast cells</text><text transform="translate(188.22,896.50) rotate(90)" x="0" y="0" font-size="13.4">Monocytes</text><text transform="translate(199.90,896.50) rotate(90)" x="0" y="0" font-size="13.4">Basophils</text><text transform="translate(211.57,896.50) rotate(90)" x="0" y="0" font-size="13.4">DC plasma</text><text transform="translate(223.24,896.50) rotate(90)" x="0" y="0" font-size="13.4">B cells</text><text transform="translate(234.92,896.50) rotate(90)" x="0" y="0" font-size="13.4">Nk cells</text><text transform="translate(246.59,896.50) rotate(90)" x="0" y="0" font-size="13.4">CD8 T cells</text><text transform="translate(258.26,896.50) rotate(90)" x="0" y="0" font-size="13.4">CD4 T cells</text></g><g shape-rendering="crispEdges"><rect x="344.80" y="623.80" width="11.76" height="18.88" fill="#413f9e"/><rect x="356.26" y="623.80" width="11.76" height="18.88" fill="#413f9e"/><rect x="367.72" y="623.80" width="11.76" height="18.88" fill="#413f9e"/><rect x="379.18" y="623.80" width="11.76" height="18.88" fill="#413f9e"/><rect x="390.64" y="623.80" width="11.76" height="18.88" fill="#413f9e"/><rect x="402.10" y="623.80" width="11.76" height="18.88" fill="#413f9e"/><rect x="413.56" y="623.80" width="11.76" height="18.88" fill="#413f9e"/><rect x="425.02" y="623.80" width="11.76" height="18.88" fill="#413f9e"/><rect x="436.48" y="623.80" width="11.76" height="18.88" fill="#413f9e"/><rect x="447.94" y="623.80" width="11.76" height="18.88" fill="#413f9e"/><rect x="459.40" y="623.80" width="11.76" height="18.88" fill="#413f9e"/><rect x="470.86" y="623.80" width="11.76" height="18.88" fill="#413f9e"/><rect x="482.32" y="623.80" width="11.76" height="18.88" fill="#413f9e"/><rect x="493.78" y="623.80" width="11.76" height="18.88" fill="#413f9e"/><rect x="505.24" y="623.80" width="11.76" height="18.88" fill="#413f9e"/><rect x="344.80" y="642.38" width="11.76" height="18.88" fill="#d2cb30"/><rect x="356.26" y="642.38" width="11.76" height="18.88" fill="#88869c"/><rect x="367.72" y="642.38" width="11.76" height="18.88" fill="#4642a2"/><rect x="379.18" y="642.38" width="11.76" height="18.88" fill="#4642a2"/><rect x="390.64" y="642.38" width="11.76" height="18.88" fill="#4642a2"/><rect x="402.10" y="642.38" width="11.76" height="18.88" fill="#6e6aaa"/><rect x="413.56" y="642.38" width="11.76" height="18.88" fill="#4642a2"/><rect x="425.02" y="642.38" width="11.76" height="18.88" fill="#4642a2"/><rect x="436.48" y="642.38" width="11.76" height="18.88" fill="#4642a2"/><rect x="447.94" y="642.38" width="11.76" height="18.88" fill="#4e48aa"/><rect x="459.40" y="642.38" width="11.76" height="18.88" fill="#4e48aa"/><rect x="470.86" y="642.38" width="11.76" height="18.88" fill="#6e6aaa"/><rect x="482.32" y="642.38" width="11.76" height="18.88" fill="#4e48aa"/><rect x="493.78" y="642.38" width="11.76" height="18.88" fill="#605cb0"/><rect x="505.24" y="642.38" width="11.76" height="18.88" fill="#605cb0"/><rect x="344.80" y="660.96" width="11.76" height="18.88" fill="#4642a2"/><rect x="356.26" y="660.96" width="11.76" height="18.88" fill="#524eb0"/><rect x="367.72" y="660.96" width="11.76" height="18.88" fill="#a3a070"/><rect x="379.18" y="660.96" width="11.76" height="18.88" fill="#4e48aa"/><rect x="390.64" y="660.96" width="11.76" height="18.88" fill="#7a77a6"/><rect x="402.10" y="660.96" width="11.76" height="18.88" fill="#4642a2"/><rect x="413.56" y="660.96" width="11.76" height="18.88" fill="#4642a2"/><rect x="425.02" y="660.96" width="11.76" height="18.88" fill="#4642a2"/><rect x="436.48" y="660.96" width="11.76" height="18.88" fill="#929192"/><rect x="447.94" y="660.96" width="11.76" height="18.88" fill="#9b9980"/><rect x="459.40" y="660.96" width="11.76" height="18.88" fill="#929192"/><rect x="470.86" y="660.96" width="11.76" height="18.88" fill="#9b9980"/><rect x="482.32" y="660.96" width="11.76" height="18.88" fill="#a3a070"/><rect x="493.78" y="660.96" width="11.76" height="18.88" fill="#a3a070"/><rect x="505.24" y="660.96" width="11.76" height="18.88" fill="#aeaa5e"/><rect x="344.80" y="679.54" width="11.76" height="18.88" fill="#e4dc1e"/><rect x="356.26" y="679.54" width="11.76" height="18.88" fill="#eee416"/><rect x="367.72" y="679.54" width="11.76" height="18.88" fill="#bab54c"/><rect x="379.18" y="679.54" width="11.76" height="18.88" fill="#a3a070"/><rect x="390.64" y="679.54" width="11.76" height="18.88" fill="#a3a070"/><rect x="402.10" y="679.54" width="11.76" height="18.88" fill="#d8d02a"/><rect x="413.56" y="679.54" width="11.76" height="18.88" fill="#c6c03e"/><rect x="425.02" y="679.54" width="11.76" height="18.88" fill="#bab54c"/><rect x="436.48" y="679.54" width="11.76" height="18.88" fill="#e4dc1e"/><rect x="447.94" y="679.54" width="11.76" height="18.88" fill="#a3a070"/><rect x="459.40" y="679.54" width="11.76" height="18.88" fill="#d2cb30"/><rect x="470.86" y="679.54" width="11.76" height="18.88" fill="#d2cb30"/><rect x="482.32" y="679.54" width="11.76" height="18.88" fill="#d2cb30"/><rect x="493.78" y="679.54" width="11.76" height="18.88" fill="#d2cb30"/><rect x="505.24" y="679.54" width="11.76" height="18.88" fill="#d2cb30"/><rect x="344.80" y="698.12" width="11.76" height="18.88" fill="#e4dc1e"/><rect x="356.26" y="698.12" width="11.76" height="18.88" fill="#eee416"/><rect x="367.72" y="698.12" width="11.76" height="18.88" fill="#bab54c"/><rect x="379.18" y="698.12" width="11.76" height="18.88" fill="#a3a070"/><rect x="390.64" y="698.12" width="11.76" height="18.88" fill="#a3a070"/><rect x="402.10" y="698.12" width="11.76" height="18.88" fill="#e4dc1e"/><rect x="413.56" y="698.12" width="11.76" height="18.88" fill="#c6c03e"/><rect x="425.02" y="698.12" width="11.76" height="18.88" fill="#bab54c"/><rect x="436.48" y="698.12" width="11.76" height="18.88" fill="#bab54c"/><rect x="447.94" y="698.12" width="11.76" height="18.88" fill="#bab54c"/><rect x="459.40" y="698.12" width="11.76" height="18.88" fill="#eee416"/><rect x="470.86" y="698.12" width="11.76" height="18.88" fill="#eee416"/><rect x="482.32" y="698.12" width="11.76" height="18.88" fill="#eee416"/><rect x="493.78" y="698.12" width="11.76" height="18.88" fill="#eee416"/><rect x="505.24" y="698.12" width="11.76" height="18.88" fill="#e4dc1e"/><rect x="344.80" y="716.70" width="11.76" height="18.88" fill="#929192"/><rect x="356.26" y="716.70" width="11.76" height="18.88" fill="#9b9980"/><rect x="367.72" y="716.70" width="11.76" height="18.88" fill="#a3a070"/><rect x="379.18" y="716.70" width="11.76" height="18.88" fill="#929192"/><rect x="390.64" y="716.70" width="11.76" height="18.88" fill="#a3a070"/><rect x="402.10" y="716.70" width="11.76" height="18.88" fill="#d2cb30"/><rect x="413.56" y="716.70" width="11.76" height="18.88" fill="#a3a070"/><rect x="425.02" y="716.70" width="11.76" height="18.88" fill="#aeaa5e"/><rect x="436.48" y="716.70" width="11.76" height="18.88" fill="#aeaa5e"/><rect x="447.94" y="716.70" width="11.76" height="18.88" fill="#aeaa5e"/><rect x="459.40" y="716.70" width="11.76" height="18.88" fill="#aeaa5e"/><rect x="470.86" y="716.70" width="11.76" height="18.88" fill="#e4dc1e"/><rect x="482.32" y="716.70" width="11.76" height="18.88" fill="#c6c03e"/><rect x="493.78" y="716.70" width="11.76" height="18.88" fill="#c6c03e"/><rect x="505.24" y="716.70" width="11.76" height="18.88" fill="#c6c03e"/><rect x="344.80" y="735.28" width="11.76" height="18.88" fill="#4642a2"/><rect x="356.26" y="735.28" width="11.76" height="18.88" fill="#4642a2"/><rect x="367.72" y="735.28" width="11.76" height="18.88" fill="#929192"/><rect x="379.18" y="735.28" width="11.76" height="18.88" fill="#88869c"/><rect x="390.64" y="735.28" width="11.76" height="18.88" fill="#a3a070"/><rect x="402.10" y="735.28" width="11.76" height="18.88" fill="#88869c"/><rect x="413.56" y="735.28" width="11.76" height="18.88" fill="#929192"/><rect x="425.02" y="735.28" width="11.76" height="18.88" fill="#929192"/><rect x="436.48" y="735.28" width="11.76" height="18.88" fill="#a3a070"/><rect x="447.94" y="735.28" width="11.76" height="18.88" fill="#6e6aaa"/><rect x="459.40" y="735.28" width="11.76" height="18.88" fill="#9b9980"/><rect x="470.86" y="735.28" width="11.76" height="18.88" fill="#bab54c"/><rect x="482.32" y="735.28" width="11.76" height="18.88" fill="#aeaa5e"/><rect x="493.78" y="735.28" width="11.76" height="18.88" fill="#aeaa5e"/><rect x="505.24" y="735.28" width="11.76" height="18.88" fill="#aeaa5e"/><rect x="344.80" y="753.86" width="11.76" height="18.88" fill="#4642a2"/><rect x="356.26" y="753.86" width="11.76" height="18.88" fill="#6e6aaa"/><rect x="367.72" y="753.86" width="11.76" height="18.88" fill="#d8d02a"/><rect x="379.18" y="753.86" width="11.76" height="18.88" fill="#88869c"/><rect x="390.64" y="753.86" width="11.76" height="18.88" fill="#7a77a6"/><rect x="402.10" y="753.86" width="11.76" height="18.88" fill="#a3a070"/><rect x="413.56" y="753.86" width="11.76" height="18.88" fill="#d8d02a"/><rect x="425.02" y="753.86" width="11.76" height="18.88" fill="#d8d02a"/><rect x="436.48" y="753.86" width="11.76" height="18.88" fill="#d8d02a"/><rect x="447.94" y="753.86" width="11.76" height="18.88" fill="#9b9980"/><rect x="459.40" y="753.86" width="11.76" height="18.88" fill="#929192"/><rect x="470.86" y="753.86" width="11.76" height="18.88" fill="#aeaa5e"/><rect x="482.32" y="753.86" width="11.76" height="18.88" fill="#aeaa5e"/><rect x="493.78" y="753.86" width="11.76" height="18.88" fill="#aeaa5e"/><rect x="505.24" y="753.86" width="11.76" height="18.88" fill="#aeaa5e"/><rect x="344.80" y="772.44" width="11.76" height="18.88" fill="#aeaa5e"/><rect x="356.26" y="772.44" width="11.76" height="18.88" fill="#aeaa5e"/><rect x="367.72" y="772.44" width="11.76" height="18.88" fill="#6e6aaa"/><rect x="379.18" y="772.44" width="11.76" height="18.88" fill="#6e6aaa"/><rect x="390.64" y="772.44" width="11.76" height="18.88" fill="#6e6aaa"/><rect x="402.10" y="772.44" width="11.76" height="18.88" fill="#9b9980"/><rect x="413.56" y="772.44" width="11.76" height="18.88" fill="#524eb0"/><rect x="425.02" y="772.44" width="11.76" height="18.88" fill="#7a77a6"/><rect x="436.48" y="772.44" width="11.76" height="18.88" fill="#9b9980"/><rect x="447.94" y="772.44" width="11.76" height="18.88" fill="#6e6aaa"/><rect x="459.40" y="772.44" width="11.76" height="18.88" fill="#88869c"/><rect x="470.86" y="772.44" width="11.76" height="18.88" fill="#929192"/><rect x="482.32" y="772.44" width="11.76" height="18.88" fill="#929192"/><rect x="493.78" y="772.44" width="11.76" height="18.88" fill="#929192"/><rect x="505.24" y="772.44" width="11.76" height="18.88" fill="#7a77a6"/><rect x="344.80" y="791.02" width="11.76" height="18.88" fill="#929192"/><rect x="356.26" y="791.02" width="11.76" height="18.88" fill="#aeaa5e"/><rect x="367.72" y="791.02" width="11.76" height="18.88" fill="#929192"/><rect x="379.18" y="791.02" width="11.76" height="18.88" fill="#7a77a6"/><rect x="390.64" y="791.02" width="11.76" height="18.88" fill="#88869c"/><rect x="402.10" y="791.02" width="11.76" height="18.88" fill="#aeaa5e"/><rect x="413.56" y="791.02" width="11.76" height="18.88" fill="#a3a070"/><rect x="425.02" y="791.02" width="11.76" height="18.88" fill="#a3a070"/><rect x="436.48" y="791.02" width="11.76" height="18.88" fill="#a3a070"/><rect x="447.94" y="791.02" width="11.76" height="18.88" fill="#929192"/><rect x="459.40" y="791.02" width="11.76" height="18.88" fill="#a3a070"/><rect x="470.86" y="791.02" width="11.76" height="18.88" fill="#929192"/><rect x="482.32" y="791.02" width="11.76" height="18.88" fill="#aeaa5e"/><rect x="493.78" y="791.02" width="11.76" height="18.88" fill="#7a77a6"/><rect x="505.24" y="791.02" width="11.76" height="18.88" fill="#a3a070"/><rect x="344.80" y="809.60" width="11.76" height="18.88" fill="#e4dc1e"/><rect x="356.26" y="809.60" width="11.76" height="18.88" fill="#e4dc1e"/><rect x="367.72" y="809.60" width="11.76" height="18.88" fill="#d2cb30"/><rect x="379.18" y="809.60" width="11.76" height="18.88" fill="#7a77a6"/><rect x="390.64" y="809.60" width="11.76" height="18.88" fill="#a3a070"/><rect x="402.10" y="809.60" width="11.76" height="18.88" fill="#d2cb30"/><rect x="413.56" y="809.60" width="11.76" height="18.88" fill="#d2cb30"/><rect x="425.02" y="809.60" width="11.76" height="18.88" fill="#d2cb30"/><rect x="436.48" y="809.60" width="11.76" height="18.88" fill="#88869c"/><rect x="447.94" y="809.60" width="11.76" height="18.88" fill="#929192"/><rect x="459.40" y="809.60" width="11.76" height="18.88" fill="#aeaa5e"/><rect x="470.86" y="809.60" width="11.76" height="18.88" fill="#aeaa5e"/><rect x="482.32" y="809.60" width="11.76" height="18.88" fill="#aeaa5e"/><rect x="493.78" y="809.60" width="11.76" height="18.88" fill="#a3a070"/><rect x="505.24" y="809.60" width="11.76" height="18.88" fill="#a3a070"/><rect x="344.80" y="828.18" width="11.76" height="18.88" fill="#eee416"/><rect x="356.26" y="828.18" width="11.76" height="18.88" fill="#eee416"/><rect x="367.72" y="828.18" width="11.76" height="18.88" fill="#929192"/><rect x="379.18" y="828.18" width="11.76" height="18.88" fill="#929192"/><rect x="390.64" y="828.18" width="11.76" height="18.88" fill="#aeaa5e"/><rect x="402.10" y="828.18" width="11.76" height="18.88" fill="#bab54c"/><rect x="413.56" y="828.18" width="11.76" height="18.88" fill="#929192"/><rect x="425.02" y="828.18" width="11.76" height="18.88" fill="#929192"/><rect x="436.48" y="828.18" width="11.76" height="18.88" fill="#d8d02a"/><rect x="447.94" y="828.18" width="11.76" height="18.88" fill="#bab54c"/><rect x="459.40" y="828.18" width="11.76" height="18.88" fill="#a3a070"/><rect x="470.86" y="828.18" width="11.76" height="18.88" fill="#d2cb30"/><rect x="482.32" y="828.18" width="11.76" height="18.88" fill="#aeaa5e"/><rect x="493.78" y="828.18" width="11.76" height="18.88" fill="#aeaa5e"/><rect x="505.24" y="828.18" width="11.76" height="18.88" fill="#aeaa5e"/><rect x="344.80" y="846.76" width="11.76" height="18.88" fill="#a3a070"/><rect x="356.26" y="846.76" width="11.76" height="18.88" fill="#bab54c"/><rect x="367.72" y="846.76" width="11.76" height="18.88" fill="#a3a070"/><rect x="379.18" y="846.76" width="11.76" height="18.88" fill="#929192"/><rect x="390.64" y="846.76" width="11.76" height="18.88" fill="#929192"/><rect x="402.10" y="846.76" width="11.76" height="18.88" fill="#bab54c"/><rect x="413.56" y="846.76" width="11.76" height="18.88" fill="#aeaa5e"/><rect x="425.02" y="846.76" width="11.76" height="18.88" fill="#aeaa5e"/><rect x="436.48" y="846.76" width="11.76" height="18.88" fill="#bab54c"/><rect x="447.94" y="846.76" width="11.76" height="18.88" fill="#9b9980"/><rect x="459.40" y="846.76" width="11.76" height="18.88" fill="#bab54c"/><rect x="470.86" y="846.76" width="11.76" height="18.88" fill="#bab54c"/><rect x="482.32" y="846.76" width="11.76" height="18.88" fill="#bab54c"/><rect x="493.78" y="846.76" width="11.76" height="18.88" fill="#bab54c"/><rect x="505.24" y="846.76" width="11.76" height="18.88" fill="#bab54c"/><rect x="344.80" y="865.34" width="11.76" height="18.88" fill="#d8d02a"/><rect x="356.26" y="865.34" width="11.76" height="18.88" fill="#d8d02a"/><rect x="367.72" y="865.34" width="11.76" height="18.88" fill="#a3a070"/><rect x="379.18" y="865.34" width="11.76" height="18.88" fill="#605cb0"/><rect x="390.64" y="865.34" width="11.76" height="18.88" fill="#605cb0"/><rect x="402.10" y="865.34" width="11.76" height="18.88" fill="#aeaa5e"/><rect x="413.56" y="865.34" width="11.76" height="18.88" fill="#a3a070"/><rect x="425.02" y="865.34" width="11.76" height="18.88" fill="#a3a070"/><rect x="436.48" y="865.34" width="11.76" height="18.88" fill="#bab54c"/><rect x="447.94" y="865.34" width="11.76" height="18.88" fill="#9b9980"/><rect x="459.40" y="865.34" width="11.76" height="18.88" fill="#a3a070"/><rect x="470.86" y="865.34" width="11.76" height="18.88" fill="#d8d02a"/><rect x="482.32" y="865.34" width="11.76" height="18.88" fill="#d2cb30"/><rect x="493.78" y="865.34" width="11.76" height="18.88" fill="#d2cb30"/><rect x="505.24" y="865.34" width="11.76" height="18.88" fill="#c6c03e"/><rect x="344.80" y="883.92" width="11.76" height="18.88" fill="#d2cb30"/><rect x="356.26" y="883.92" width="11.76" height="18.88" fill="#d8d02a"/><rect x="367.72" y="883.92" width="11.76" height="18.88" fill="#a3a070"/><rect x="379.18" y="883.92" width="11.76" height="18.88" fill="#929192"/><rect x="390.64" y="883.92" width="11.76" height="18.88" fill="#aeaa5e"/><rect x="402.10" y="883.92" width="11.76" height="18.88" fill="#aeaa5e"/><rect x="413.56" y="883.92" width="11.76" height="18.88" fill="#929192"/><rect x="425.02" y="883.92" width="11.76" height="18.88" fill="#a3a070"/><rect x="436.48" y="883.92" width="11.76" height="18.88" fill="#d2cb30"/><rect x="447.94" y="883.92" width="11.76" height="18.88" fill="#9b9980"/><rect x="459.40" y="883.92" width="11.76" height="18.88" fill="#a3a070"/><rect x="470.86" y="883.92" width="11.76" height="18.88" fill="#aeaa5e"/><rect x="482.32" y="883.92" width="11.76" height="18.88" fill="#aeaa5e"/><rect x="493.78" y="883.92" width="11.76" height="18.88" fill="#aeaa5e"/><rect x="505.24" y="883.92" width="11.76" height="18.88" fill="#aeaa5e"/></g><path d="M350.53,623.80V585.40H361.99V623.80M384.91,623.80V604.60H396.37V623.80M373.45,623.80V577.30H390.64V604.60M419.29,623.80V607.50H430.75V623.80M407.83,623.80V577.70H425.02V607.50M382.05,577.30V560.40H416.43V577.70M453.67,623.80V599.20H465.13V623.80M442.21,623.80V590.20H459.40V599.20M499.51,623.80V614.20H510.97V623.80M488.05,623.80V610.00H505.24V614.20M476.59,623.80V601.20H496.65V610.00M450.81,590.20V584.00H486.62V601.20M399.24,560.40V552.00H468.71V584.00M356.26,585.40V528.70H433.97V552.00" fill="none" stroke="#000" stroke-width="2.5" stroke-linejoin="round"/><g fill="#000" stroke="#000" stroke-width="0.3"><text x="343.20" y="637.59" text-anchor="end" font-size="13">KDM4D</text><text x="343.20" y="656.17" text-anchor="end" font-size="13">KDM6B</text><text x="343.20" y="674.75" text-anchor="end" font-size="13">KDM5D</text><text x="343.20" y="693.33" text-anchor="end" font-size="13">KDM3A</text><text x="343.20" y="711.91" text-anchor="end" font-size="13">KDM2A</text><text x="343.20" y="730.49" text-anchor="end" font-size="13">KDM4C</text><text x="343.20" y="749.07" text-anchor="end" font-size="13">KDM2B</text><text x="343.20" y="767.65" text-anchor="end" font-size="13">KDM1A</text><text x="343.20" y="786.23" text-anchor="end" font-size="13">KDM3B</text><text x="343.20" y="804.81" text-anchor="end" font-size="13">KDM4A</text><text x="343.20" y="823.39" text-anchor="end" font-size="13">KDM5B</text><text x="343.20" y="841.97" text-anchor="end" font-size="13">KDM4B</text><text x="343.20" y="860.55" text-anchor="end" font-size="13">KDM5C</text><text x="343.20" y="879.13" text-anchor="end" font-size="13">KDM6A</text><text x="343.20" y="897.71" text-anchor="end" font-size="13">KDM5A</text><text transform="translate(346.03,905.50) rotate(90)" x="0" y="0" font-size="13.6">Neutrophils</text><text transform="translate(357.49,905.50) rotate(90)" x="0" y="0" font-size="13.6">Eosinophils</text><text transform="translate(368.95,905.50) rotate(90)" x="0" y="0" font-size="13.6">Progenitor3</text><text transform="translate(380.41,905.50) rotate(90)" x="0" y="0" font-size="13.6">Macrophages</text><text transform="translate(391.87,905.50) rotate(90)" x="0" y="0" font-size="13.6">DC monocytes</text><text transform="translate(403.33,905.50) rotate(90)" x="0" y="0" font-size="13.6">Mast cells</text><text transform="translate(414.79,905.50) rotate(90)" x="0" y="0" font-size="13.6">Progenitor1</text><text transform="translate(426.25,905.50) rotate(90)" x="0" y="0" font-size="13.6">Progenitor2</text><text transform="translate(437.71,905.50) rotate(90)" x="0" y="0" font-size="13.6">DC plasma</text><text transform="translate(449.17,905.50) rotate(90)" x="0" y="0" font-size="13.6">Monocytes</text><text transform="translate(460.63,905.50) rotate(90)" x="0" y="0" font-size="13.6">Basophils</text><text transform="translate(472.09,905.50) rotate(90)" x="0" y="0" font-size="13.6">B cells</text><text transform="translate(483.55,905.50) rotate(90)" x="0" y="0" font-size="13.6">CD4 T cells</text><text transform="translate(495.01,905.50) rotate(90)" x="0" y="0" font-size="13.6">NK cells</text><text transform="translate(506.47,905.50) rotate(90)" x="0" y="0" font-size="13.6">CD8 T cells</text></g><text x="71.3" y="8.6" font-size="13.3" font-weight="bold" textLength="141.2" lengthAdjust="spacingAndGlyphs" fill="#000" stroke="#000" stroke-width="0.35">Lysine acetyltransferases</text><text x="349.4" y="9.0" font-size="13.3" font-weight="bold" textLength="115.8" lengthAdjust="spacingAndGlyphs" fill="#000" stroke="#000" stroke-width="0.35">Histone deacetylases</text><text x="78.2" y="504.7" font-size="13.3" font-weight="bold" textLength="150.3" lengthAdjust="spacingAndGlyphs" fill="#000" stroke="#000" stroke-width="0.35">Lysine methyltransferases</text><text x="358.1" y="505.4" font-size="13.3" font-weight="bold" textLength="115.0" lengthAdjust="spacingAndGlyphs" fill="#000" stroke="#000" stroke-width="0.35">Lysine demethylases</text><text x="0.5" y="12.5" font-family="Liberation Sans" style="font-family:'Liberation Sans'" font-size="16" font-weight="bold" fill="#000">A</text><text x="272.5" y="12.5" font-family="Liberation Sans" style="font-family:'Liberation Sans'" font-size="16" font-weight="bold" fill="#000">B</text><text x="1.0" y="504.6" font-family="Liberation Sans" style="font-family:'Liberation Sans'" font-size="16" font-weight="bold" fill="#000">C</text><text x="272.3" y="505.8" font-family="Liberation Sans" style="font-family:'Liberation Sans'" font-size="16" font-weight="bold" fill="#000">D</text><rect x="25.2" y="36.2" width="43.10" height="62.70" fill="url(#ck)"/><path d="M25.20,89.25V89.25H27.77V93.60H31.60V90.70H33.50V85.40H34.50V83.00H35.90V69.50H37.90V83.00H40.30V63.60H42.20V74.80H45.10V39.50H47.20V60.90H49.40V43.40H51.30V61.40H53.25V53.20H55.20V58.50H57.60V69.10H59.00V87.30H60.90V79.20H63.80V88.30H65.75V92.60H67.20V93.60H68.30" fill="none" stroke="#2a2a2a" stroke-width="1.2"/><rect x="25.2" y="36.2" width="43.10" height="62.70" fill="none" stroke="#1a1a1a" stroke-width="1.1"/><line x1="22.10" y1="98.90" x2="25.20" y2="98.90" stroke="#222" stroke-width="1"/><line x1="22.10" y1="89.00" x2="25.20" y2="89.00" stroke="#222" stroke-width="1"/><line x1="22.10" y1="79.10" x2="25.20" y2="79.10" stroke="#222" stroke-width="1"/><line x1="22.10" y1="69.20" x2="25.20" y2="69.20" stroke="#222" stroke-width="1"/><line x1="22.10" y1="59.30" x2="25.20" y2="59.30" stroke="#222" stroke-width="1"/><line x1="22.10" y1="49.40" x2="25.20" y2="49.40" stroke="#222" stroke-width="1"/><line x1="22.10" y1="39.50" x2="25.20" y2="39.50" stroke="#222" stroke-width="1"/><text transform="translate(20.60,98.90) rotate(-90)" x="-1.30" text-anchor="middle" font-size="11.3" font-weight="bold" fill="#111">0</text><text transform="translate(20.60,79.10) rotate(-90)" x="-1.30" text-anchor="middle" font-size="11.3" font-weight="bold" fill="#111">10</text><text transform="translate(20.60,59.30) rotate(-90)" x="-1.30" text-anchor="middle" font-size="11.3" font-weight="bold" fill="#111">20</text><text transform="translate(20.60,39.50) rotate(-90)" x="-1.30" text-anchor="middle" font-size="11.3" font-weight="bold" fill="#111">30</text><line x1="31.60" y1="98.90" x2="31.60" y2="101.50" stroke="#222" stroke-width="1"/><line x1="40.20" y1="98.90" x2="40.20" y2="101.50" stroke="#222" stroke-width="1"/><line x1="48.80" y1="98.90" x2="48.80" y2="101.50" stroke="#222" stroke-width="1"/><line x1="57.40" y1="98.90" x2="57.40" y2="101.50" stroke="#222" stroke-width="1"/><line x1="66.00" y1="98.90" x2="66.00" y2="101.50" stroke="#222" stroke-width="1"/><text x="31.60" y="112.50" text-anchor="middle" font-size="11" font-weight="bold" fill="#111">0.5</text><text x="48.80" y="112.50" text-anchor="middle" font-size="11" font-weight="bold" fill="#111">1.5</text><text x="66.00" y="112.50" text-anchor="middle" font-size="11" font-weight="bold" fill="#111">2.5</text><text x="14" y="125.7" font-size="11" fill="#4a4a4a" stroke="#4a4a4a" stroke-width="0.25" textLength="56.6" lengthAdjust="spacingAndGlyphs">Log10 value</text><text transform="translate(7.6,71.9) rotate(-90)" text-anchor="middle" font-size="11.2" fill="#4a4a4a" stroke="#4a4a4a" stroke-width="0.25">Count</text><text transform="translate(81.3,76.5) rotate(-90)" x="-52.30" font-size="12.2" fill="#4a4a4a" stroke="#4a4a4a" stroke-width="0.25" textLength="104.6" lengthAdjust="spacingAndGlyphs">Color key/Histogram</text><rect x="282.8" y="33.9" width="41.50" height="61.80" fill="url(#ck)"/><path d="M282.80,85.80V85.80H285.80V83.40H289.60V71.30H291.10V85.80H293.00V76.20H294.40V73.75H295.90V71.30H297.80V68.90H299.70V51.60H301.20V68.90H303.10V37.20H305.50V41.50H307.40V37.20H309.30V63.20H311.70V42.00H313.20V43.90H314.60V47.30H316.50V51.20H318.50V66.10H319.90V73.30H321.30V73.30H324.30" fill="none" stroke="#2a2a2a" stroke-width="1.2"/><rect x="282.8" y="33.9" width="41.50" height="61.80" fill="none" stroke="#1a1a1a" stroke-width="1.1"/><line x1="280.30" y1="95.70" x2="282.80" y2="95.70" stroke="#222" stroke-width="1"/><line x1="280.30" y1="83.42" x2="282.80" y2="83.42" stroke="#222" stroke-width="1"/><line x1="280.30" y1="71.14" x2="282.80" y2="71.14" stroke="#222" stroke-width="1"/><line x1="280.30" y1="58.86" x2="282.80" y2="58.86" stroke="#222" stroke-width="1"/><line x1="280.30" y1="46.58" x2="282.80" y2="46.58" stroke="#222" stroke-width="1"/><line x1="280.30" y1="34.30" x2="282.80" y2="34.30" stroke="#222" stroke-width="1"/><text transform="translate(279.50,95.70) rotate(-90)" x="0.00" text-anchor="middle" font-size="11.3" font-weight="bold" fill="#111">0</text><text transform="translate(279.50,83.42) rotate(-90)" x="0.00" text-anchor="middle" font-size="11.3" font-weight="bold" fill="#111">5</text><text transform="translate(279.50,58.86) rotate(-90)" x="0.00" text-anchor="middle" font-size="11.3" font-weight="bold" fill="#111">15</text><text transform="translate(279.50,34.30) rotate(-90)" x="0.00" text-anchor="middle" font-size="11.3" font-weight="bold" fill="#111">25</text><line x1="282.70" y1="95.70" x2="282.70" y2="98.30" stroke="#222" stroke-width="1"/><line x1="292.50" y1="95.70" x2="292.50" y2="98.30" stroke="#222" stroke-width="1"/><line x1="302.30" y1="95.70" x2="302.30" y2="98.30" stroke="#222" stroke-width="1"/><line x1="312.10" y1="95.70" x2="312.10" y2="98.30" stroke="#222" stroke-width="1"/><line x1="321.90" y1="95.70" x2="321.90" y2="98.30" stroke="#222" stroke-width="1"/><text x="281.33" y="109.20" text-anchor="middle" font-size="11" font-weight="bold" fill="#111">0</text><text x="301.71" y="109.20" text-anchor="middle" font-size="11" font-weight="bold" fill="#111">1</text><text x="321.90" y="109.20" text-anchor="middle" font-size="11" font-weight="bold" fill="#111">2</text><text x="271.2" y="119.2" font-size="11" fill="#4a4a4a" stroke="#4a4a4a" stroke-width="0.25" textLength="57.6" lengthAdjust="spacingAndGlyphs">Log10 value</text><text transform="translate(266.9,71.1) rotate(-90)" text-anchor="middle" font-size="11.2" fill="#4a4a4a" stroke="#4a4a4a" stroke-width="0.25">Count</text><text transform="translate(341.2,76.5) rotate(-90)" x="-50.90" font-size="12.2" fill="#4a4a4a" stroke="#4a4a4a" stroke-width="0.25" textLength="101.8" lengthAdjust="spacingAndGlyphs">Color key/Histogram</text><rect x="28.4" y="526.4" width="41.60" height="62.80" fill="url(#ck)"/><path d="M28.40,584.40V584.40H32.90V588.70H35.50V582.70H37.20V577.50H40.70V565.40H43.30V570.60H45.30V559.30H47.60V529.90H50.20V540.30H51.90V547.20H54.50V558.50H56.20V574.90H59.70V581.00H63.20V580.10H64.90V586.20H67.50V587.50H70.00" fill="none" stroke="#2a2a2a" stroke-width="1.2"/><rect x="28.4" y="526.4" width="41.60" height="62.80" fill="none" stroke="#1a1a1a" stroke-width="1.1"/><line x1="26.00" y1="588.90" x2="28.40" y2="588.90" stroke="#222" stroke-width="1"/><line x1="26.00" y1="579.80" x2="28.40" y2="579.80" stroke="#222" stroke-width="1"/><line x1="26.00" y1="570.70" x2="28.40" y2="570.70" stroke="#222" stroke-width="1"/><line x1="26.00" y1="561.60" x2="28.40" y2="561.60" stroke="#222" stroke-width="1"/><line x1="26.00" y1="552.50" x2="28.40" y2="552.50" stroke="#222" stroke-width="1"/><line x1="26.00" y1="543.40" x2="28.40" y2="543.40" stroke="#222" stroke-width="1"/><line x1="26.00" y1="534.30" x2="28.40" y2="534.30" stroke="#222" stroke-width="1"/><text transform="translate(24.40,588.90) rotate(-90)" x="0.00" text-anchor="middle" font-size="11.3" font-weight="bold" fill="#111">0</text><text transform="translate(24.40,570.70) rotate(-90)" x="0.00" text-anchor="middle" font-size="11.3" font-weight="bold" fill="#111">20</text><text transform="translate(24.40,552.50) rotate(-90)" x="0.00" text-anchor="middle" font-size="11.3" font-weight="bold" fill="#111">40</text><text transform="translate(24.40,534.30) rotate(-90)" x="0.00" text-anchor="middle" font-size="11.3" font-weight="bold" fill="#111">60</text><line x1="28.50" y1="589.20" x2="28.50" y2="591.80" stroke="#222" stroke-width="1"/><line x1="36.10" y1="589.20" x2="36.10" y2="591.80" stroke="#222" stroke-width="1"/><line x1="43.70" y1="589.20" x2="43.70" y2="591.80" stroke="#222" stroke-width="1"/><line x1="51.30" y1="589.20" x2="51.30" y2="591.80" stroke="#222" stroke-width="1"/><line x1="58.90" y1="589.20" x2="58.90" y2="591.80" stroke="#222" stroke-width="1"/><line x1="66.50" y1="589.20" x2="66.50" y2="591.80" stroke="#222" stroke-width="1"/><text x="29.26" y="603.10" text-anchor="middle" font-size="11" font-weight="bold" fill="#111">0</text><text x="44.61" y="603.10" text-anchor="middle" font-size="11" font-weight="bold" fill="#111">1</text><text x="59.51" y="603.10" text-anchor="middle" font-size="11" font-weight="bold" fill="#111">2</text><text x="15.4" y="612.6" font-size="11" fill="#4a4a4a" stroke="#4a4a4a" stroke-width="0.25" textLength="57.7" lengthAdjust="spacingAndGlyphs">Log10 value</text><text transform="translate(11.8,557) rotate(-90)" text-anchor="middle" font-size="11.2" fill="#4a4a4a" stroke="#4a4a4a" stroke-width="0.25">Count</text><text transform="translate(84.3,564.5) rotate(-90)" x="-51.00" font-size="12.2" fill="#4a4a4a" stroke="#4a4a4a" stroke-width="0.25" textLength="102" lengthAdjust="spacingAndGlyphs">Color key/Histogram</text><rect x="291.2" y="522.4" width="39.90" height="65.40" fill="url(#ck)"/><path d="M291.20,577.10V577.10H294.90V584.00H298.20V583.10H301.90V581.70H304.20V579.00H306.00V576.20H307.90V572.50H309.70V564.20H311.10V542.90H312.20V540.20H313.90V537.90H315.20V525.80H317.40V542.90H318.90V558.20H320.80V549.90H323.10V576.20H324.50V579.00H326.30V580.80H328.60V579.00H331.10" fill="none" stroke="#2a2a2a" stroke-width="1.2"/><rect x="291.2" y="522.4" width="39.90" height="65.40" fill="none" stroke="#1a1a1a" stroke-width="1.1"/><line x1="288.80" y1="588.10" x2="291.20" y2="588.10" stroke="#222" stroke-width="1"/><line x1="288.80" y1="578.90" x2="291.20" y2="578.90" stroke="#222" stroke-width="1"/><line x1="288.80" y1="569.70" x2="291.20" y2="569.70" stroke="#222" stroke-width="1"/><line x1="288.80" y1="560.50" x2="291.20" y2="560.50" stroke="#222" stroke-width="1"/><line x1="288.80" y1="551.30" x2="291.20" y2="551.30" stroke="#222" stroke-width="1"/><line x1="288.80" y1="542.10" x2="291.20" y2="542.10" stroke="#222" stroke-width="1"/><line x1="288.80" y1="532.90" x2="291.20" y2="532.90" stroke="#222" stroke-width="1"/><line x1="288.80" y1="523.70" x2="291.20" y2="523.70" stroke="#222" stroke-width="1"/><text transform="translate(287.20,588.10) rotate(-90)" x="0.00" text-anchor="middle" font-size="11.3" font-weight="bold" fill="#111">0</text><text transform="translate(287.20,569.70) rotate(-90)" x="0.00" text-anchor="middle" font-size="11.3" font-weight="bold" fill="#111">10</text><text transform="translate(287.20,551.30) rotate(-90)" x="0.00" text-anchor="middle" font-size="11.3" font-weight="bold" fill="#111">20</text><text transform="translate(287.20,532.90) rotate(-90)" x="0.00" text-anchor="middle" font-size="11.3" font-weight="bold" fill="#111">30</text><line x1="291.10" y1="587.80" x2="291.10" y2="590.40" stroke="#222" stroke-width="1"/><line x1="298.75" y1="587.80" x2="298.75" y2="590.40" stroke="#222" stroke-width="1"/><line x1="306.40" y1="587.80" x2="306.40" y2="590.40" stroke="#222" stroke-width="1"/><line x1="314.05" y1="587.80" x2="314.05" y2="590.40" stroke="#222" stroke-width="1"/><line x1="321.70" y1="587.80" x2="321.70" y2="590.40" stroke="#222" stroke-width="1"/><line x1="329.35" y1="587.80" x2="329.35" y2="590.40" stroke="#222" stroke-width="1"/><text x="291.10" y="600.80" text-anchor="middle" font-size="11" font-weight="bold" fill="#111">0</text><text x="306.40" y="600.80" text-anchor="middle" font-size="11" font-weight="bold" fill="#111">1</text><text x="321.09" y="600.80" text-anchor="middle" font-size="11" font-weight="bold" fill="#111">2</text><text x="272.6" y="612.3" font-size="11" fill="#4a4a4a" stroke="#4a4a4a" stroke-width="0.25" textLength="57.7" lengthAdjust="spacingAndGlyphs">Log10 value</text><text transform="translate(276.6,558.3) rotate(-90)" text-anchor="middle" font-size="11.2" fill="#4a4a4a" stroke="#4a4a4a" stroke-width="0.25">Count</text><text transform="translate(342.3,564.8) rotate(-90)" x="-50.80" font-size="12.2" fill="#4a4a4a" stroke="#4a4a4a" stroke-width="0.25" textLength="101.6" lengthAdjust="spacingAndGlyphs">Color key/Histogram</text></svg></body></html>
